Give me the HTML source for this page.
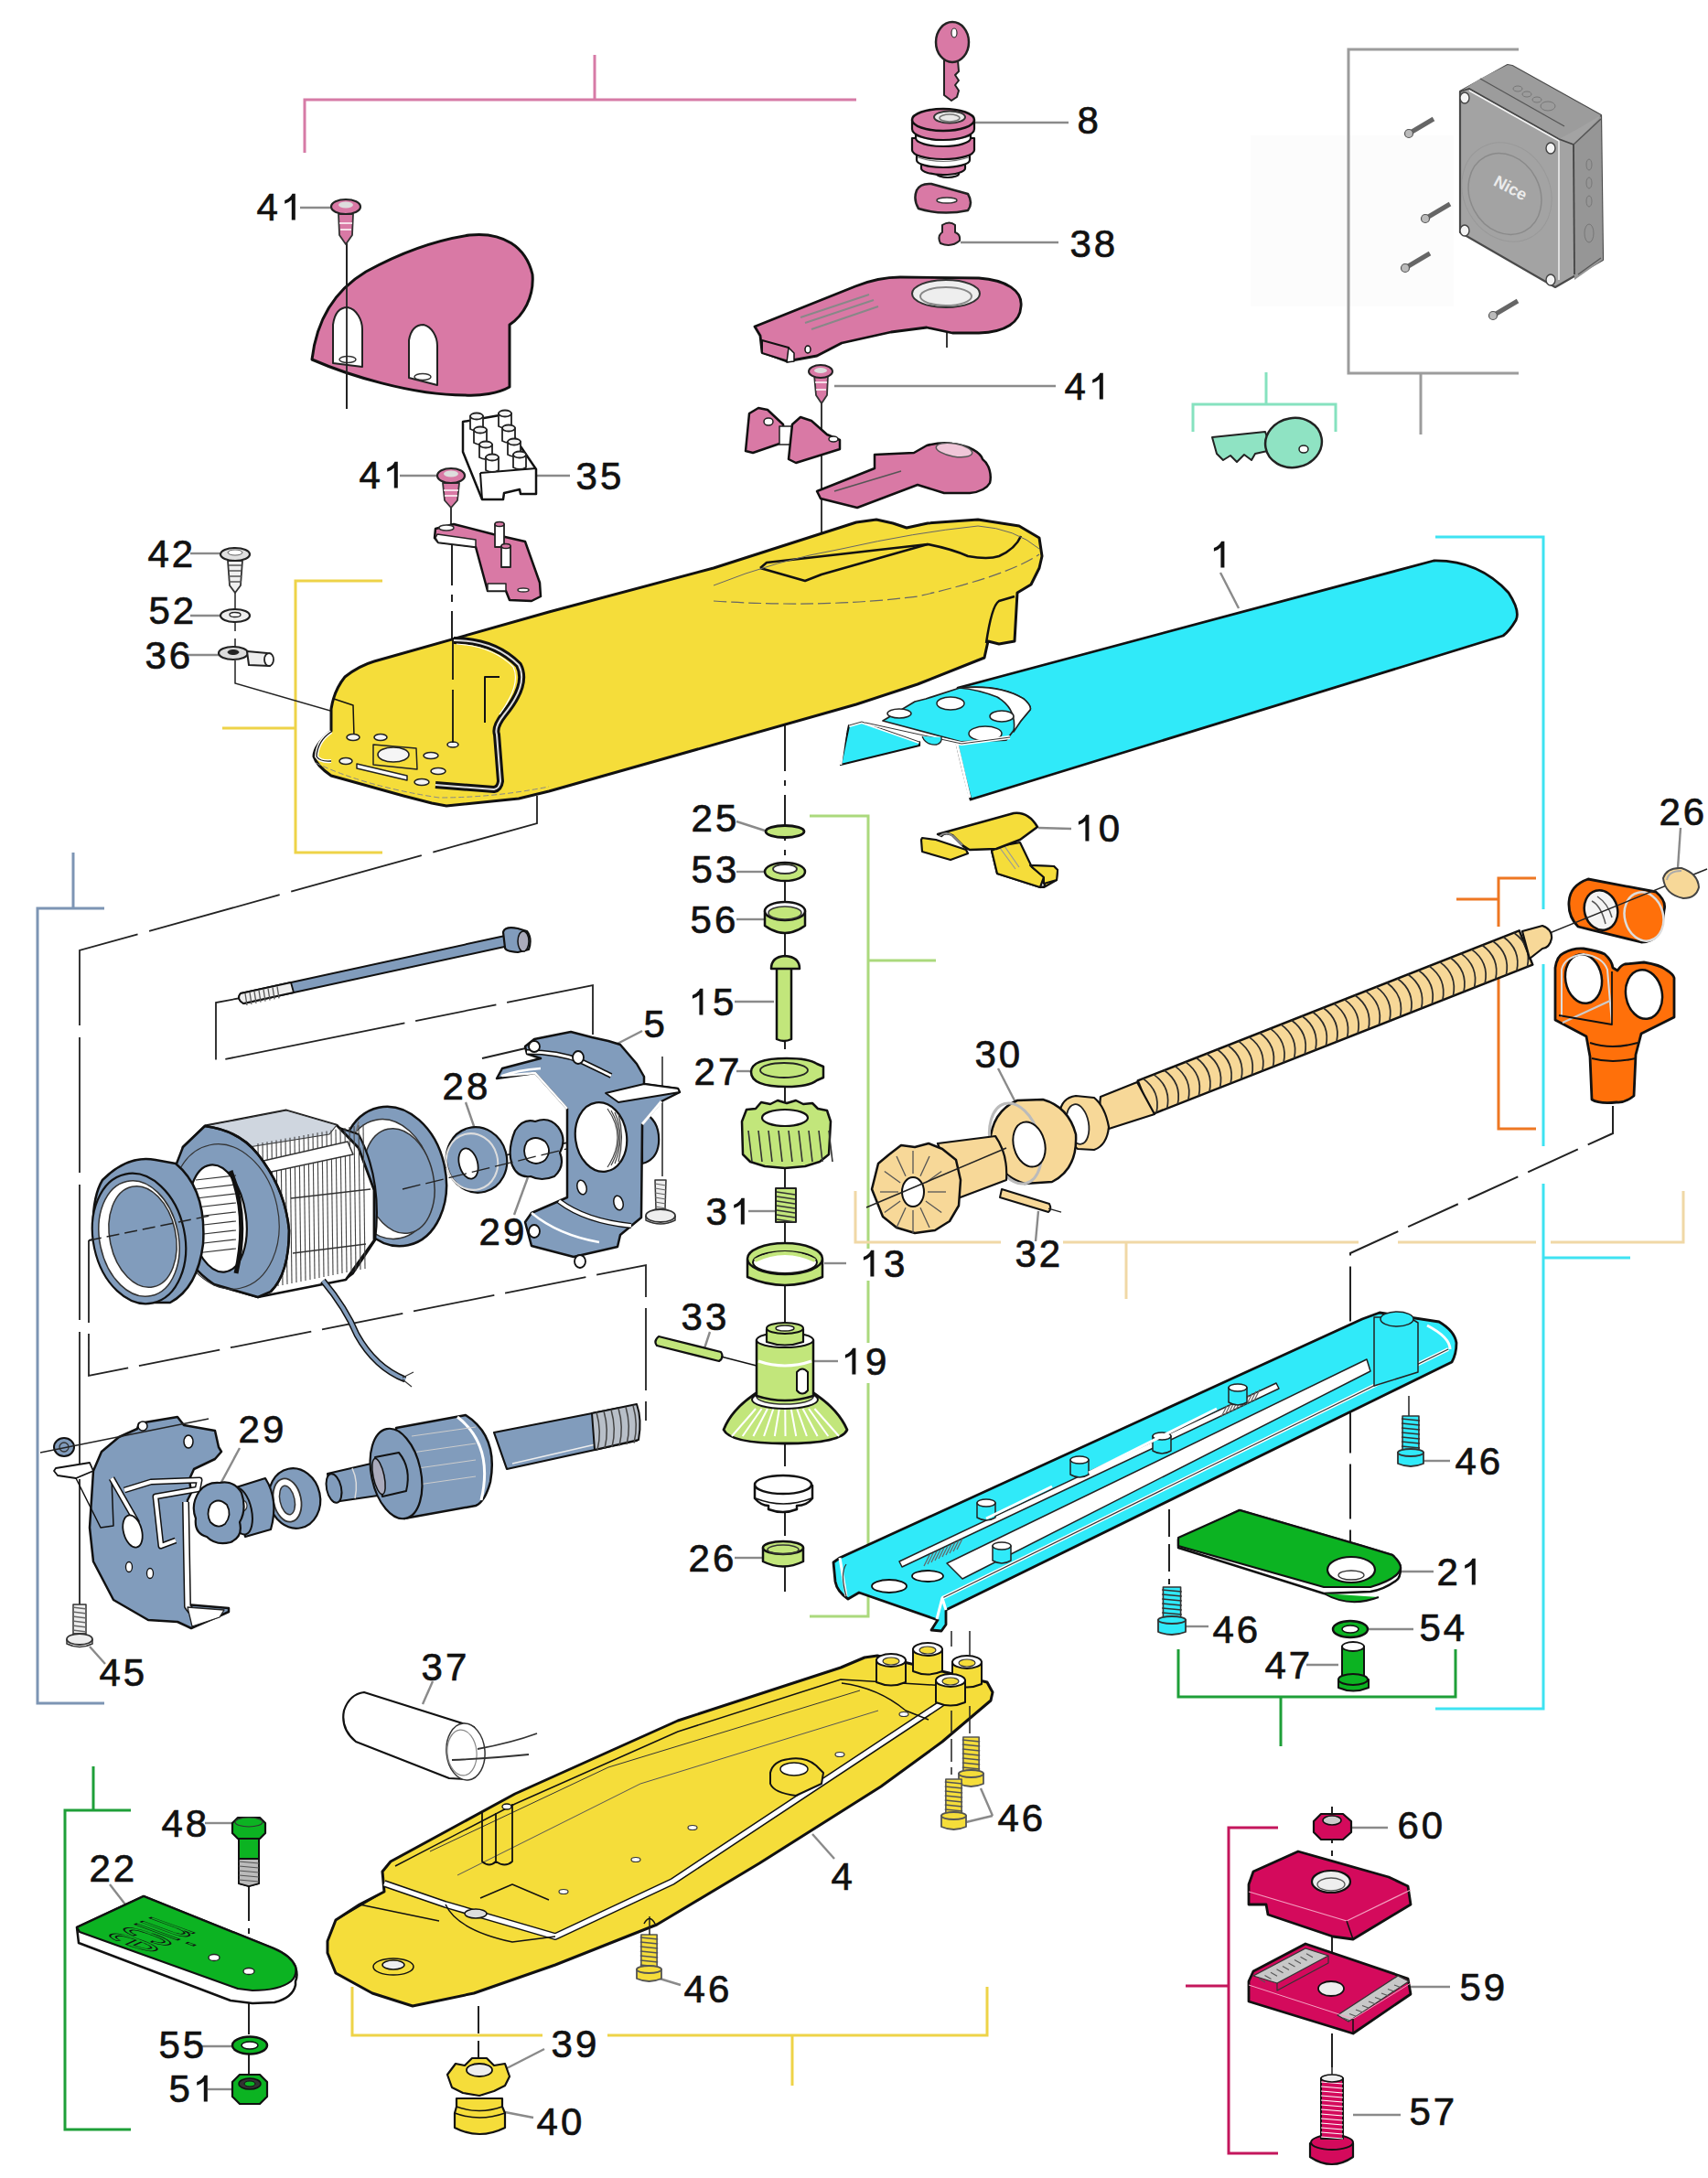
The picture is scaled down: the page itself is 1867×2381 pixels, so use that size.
<!DOCTYPE html>
<html><head><meta charset="utf-8"><style>
html,body{margin:0;padding:0;background:#fff;}
body{width:1867px;height:2381px;overflow:hidden;}
svg{display:block;}
.lb{font-family:"Liberation Sans",sans-serif;font-size:42px;fill:#111;stroke:#111;stroke-width:0.7px;}
</style></head><body>
<svg width="1867" height="2381" viewBox="0 0 1867 2381">
<rect x="1367" y="148" width="222" height="187" fill="#fcfcfc"/>
<polyline points="333,167 333,109 936,109" fill="none" stroke="#d67ba6" stroke-width="3" />
<polyline points="650,60 650,109" fill="none" stroke="#d67ba6" stroke-width="3" />
<polyline points="1660,54 1474,54 1474,408 1660,408" fill="none" stroke="#9c9c9c" stroke-width="3" />
<polyline points="1553,408 1553,475" fill="none" stroke="#9c9c9c" stroke-width="3" />
<polyline points="1304,472 1304,442 1460,442 1460,472" fill="none" stroke="#86e2bf" stroke-width="3" />
<polyline points="1384,407 1384,442" fill="none" stroke="#86e2bf" stroke-width="3" />
<polyline points="418,635 323,635 323,932 418,932" fill="none" stroke="#eed348" stroke-width="3" />
<polyline points="243,796 323,796" fill="none" stroke="#eed348" stroke-width="3" />
<polyline points="1569,587 1687,587 1687,994" fill="none" stroke="#3ee3f2" stroke-width="3" />
<polyline points="1687,1054 1687,1253" fill="none" stroke="#3ee3f2" stroke-width="3" />
<polyline points="1687,1294 1687,1868 1569,1868" fill="none" stroke="#3ee3f2" stroke-width="3" />
<polyline points="1687,1375 1782,1375" fill="none" stroke="#3ee3f2" stroke-width="3" />
<polyline points="1679,960 1638,960 1638,1013" fill="none" stroke="#ee7722" stroke-width="3" />
<polyline points="1638,1069 1638,1234 1679,1234" fill="none" stroke="#ee7722" stroke-width="3" />
<polyline points="1592,983 1638,983" fill="none" stroke="#ee7722" stroke-width="3" />
<polyline points="885,892 949,892 949,1365" fill="none" stroke="#abd97d" stroke-width="3" />
<polyline points="949,1400 949,1468" fill="none" stroke="#abd97d" stroke-width="3" />
<polyline points="949,1512 949,1767 885,1767" fill="none" stroke="#abd97d" stroke-width="3" />
<polyline points="949,1050 1023,1050" fill="none" stroke="#abd97d" stroke-width="3" />
<polyline points="935,1302 935,1358 1094,1358" fill="none" stroke="#f0d8a6" stroke-width="3" />
<polyline points="1162,1358 1485,1358" fill="none" stroke="#f0d8a6" stroke-width="3" />
<polyline points="1528,1358 1679,1358" fill="none" stroke="#f0d8a6" stroke-width="3" />
<polyline points="1695,1358 1840,1358 1840,1302" fill="none" stroke="#f0d8a6" stroke-width="3" />
<polyline points="1231,1358 1231,1420" fill="none" stroke="#f0d8a6" stroke-width="3" />
<polyline points="114,993 41,993 41,1862 114,1862" fill="none" stroke="#7d95b4" stroke-width="3" />
<polyline points="80,932 80,993" fill="none" stroke="#7d95b4" stroke-width="3" />
<polyline points="143,1979 71,1979 71,2328 143,2328" fill="none" stroke="#1e9f38" stroke-width="3" />
<polyline points="102,1931 102,1979" fill="none" stroke="#1e9f38" stroke-width="3" />
<polyline points="1288,1803 1288,1855 1591,1855 1591,1803" fill="none" stroke="#1e9f38" stroke-width="3" />
<polyline points="1400,1855 1400,1909" fill="none" stroke="#1e9f38" stroke-width="3" />
<polyline points="385,2172 385,2225 593,2225" fill="none" stroke="#eed348" stroke-width="3" />
<polyline points="664,2225 1079,2225 1079,2172" fill="none" stroke="#eed348" stroke-width="3" />
<polyline points="866,2225 866,2280" fill="none" stroke="#eed348" stroke-width="3" />
<polyline points="1397,1998 1343,1998 1343,2354 1397,2354" fill="none" stroke="#c4165c" stroke-width="3" />
<polyline points="1296,2171 1343,2171" fill="none" stroke="#c4165c" stroke-width="3" />
<polyline points="328,227 361,227" fill="none" stroke="#8a8a8a" stroke-width="2.4" />
<polyline points="585,520 623,520" fill="none" stroke="#8a8a8a" stroke-width="2.4" />
<polyline points="437,520 477,520" fill="none" stroke="#8a8a8a" stroke-width="2.4" />
<polyline points="1064,134 1168,134" fill="none" stroke="#8a8a8a" stroke-width="2.4" />
<polyline points="1050,265 1157,265" fill="none" stroke="#8a8a8a" stroke-width="2.4" />
<polyline points="912,422 1154,422" fill="none" stroke="#8a8a8a" stroke-width="2.4" />
<polyline points="208,605 240,605" fill="none" stroke="#8a8a8a" stroke-width="2.4" />
<polyline points="208,673 241,673" fill="none" stroke="#8a8a8a" stroke-width="2.4" />
<polyline points="203,716 240,716" fill="none" stroke="#8a8a8a" stroke-width="2.4" />
<polyline points="1334,626 1354,665" fill="none" stroke="#8a8a8a" stroke-width="2.4" />
<polyline points="805,898 836,908" fill="none" stroke="#8a8a8a" stroke-width="2.4" />
<polyline points="805,953 836,953" fill="none" stroke="#8a8a8a" stroke-width="2.4" />
<polyline points="805,1005 836,1005" fill="none" stroke="#8a8a8a" stroke-width="2.4" />
<polyline points="1135,905 1171,906" fill="none" stroke="#8a8a8a" stroke-width="2.4" />
<polyline points="1837,905 1834,949" fill="none" stroke="#8a8a8a" stroke-width="2.4" />
<polyline points="803,1095 846,1095" fill="none" stroke="#8a8a8a" stroke-width="2.4" />
<polyline points="702,1127 669,1144" fill="none" stroke="#8a8a8a" stroke-width="2.4" />
<polyline points="509,1205 519,1234" fill="none" stroke="#8a8a8a" stroke-width="2.4" />
<polyline points="805,1171 821,1171" fill="none" stroke="#8a8a8a" stroke-width="2.4" />
<polyline points="1091,1168 1111,1207" fill="none" stroke="#8a8a8a" stroke-width="2.4" />
<polyline points="562,1328 577,1287" fill="none" stroke="#8a8a8a" stroke-width="2.4" />
<polyline points="818,1324 847,1324" fill="none" stroke="#8a8a8a" stroke-width="2.4" />
<polyline points="1132,1357 1135,1324" fill="none" stroke="#8a8a8a" stroke-width="2.4" />
<polyline points="925,1381 901,1381" fill="none" stroke="#8a8a8a" stroke-width="2.4" />
<polyline points="916,1488 888,1488" fill="none" stroke="#8a8a8a" stroke-width="2.4" />
<polyline points="262,1583 240,1624" fill="none" stroke="#8a8a8a" stroke-width="2.4" />
<polyline points="1556,1597 1585,1597" fill="none" stroke="#8a8a8a" stroke-width="2.4" />
<polyline points="803,1703 833,1703" fill="none" stroke="#8a8a8a" stroke-width="2.4" />
<polyline points="1531,1718 1567,1718" fill="none" stroke="#8a8a8a" stroke-width="2.4" />
<polyline points="1296,1778 1321,1778" fill="none" stroke="#8a8a8a" stroke-width="2.4" />
<polyline points="1496,1781 1545,1781" fill="none" stroke="#8a8a8a" stroke-width="2.4" />
<polyline points="1428,1820 1463,1820" fill="none" stroke="#8a8a8a" stroke-width="2.4" />
<polyline points="98,1800 115,1819" fill="none" stroke="#8a8a8a" stroke-width="2.4" />
<polyline points="473,1838 462,1863" fill="none" stroke="#8a8a8a" stroke-width="2.4" />
<polyline points="224,1993 254,1993" fill="none" stroke="#8a8a8a" stroke-width="2.4" />
<polyline points="1477,1998 1517,1998" fill="none" stroke="#8a8a8a" stroke-width="2.4" />
<polyline points="1085,1985 1056,1992" fill="none" stroke="#8a8a8a" stroke-width="2.4" />
<polyline points="1085,1985 1072,1955" fill="none" stroke="#8a8a8a" stroke-width="2.4" />
<polyline points="137,2082 120,2060" fill="none" stroke="#8a8a8a" stroke-width="2.4" />
<polyline points="888,2005 912,2032" fill="none" stroke="#8a8a8a" stroke-width="2.4" />
<polyline points="1542,2172 1585,2172" fill="none" stroke="#8a8a8a" stroke-width="2.4" />
<polyline points="721,2163 744,2170" fill="none" stroke="#8a8a8a" stroke-width="2.4" />
<polyline points="554,2261 595,2240" fill="none" stroke="#8a8a8a" stroke-width="2.4" />
<polyline points="218,2237 255,2237" fill="none" stroke="#8a8a8a" stroke-width="2.4" />
<polyline points="227,2284 255,2284" fill="none" stroke="#8a8a8a" stroke-width="2.4" />
<polyline points="552,2309 583,2315" fill="none" stroke="#8a8a8a" stroke-width="2.4" />
<polyline points="1479,2312 1531,2312" fill="none" stroke="#8a8a8a" stroke-width="2.4" />
<polyline points="776,1456 770,1474" fill="none" stroke="#8a8a8a" stroke-width="2.4" />
<polyline points="587,870 587,900 87,1039 87,1754" fill="none" stroke="#222" stroke-width="1.8" stroke-dasharray="148 13" />
<polyline points="494,580 494,812" fill="none" stroke="#222" stroke-width="2" stroke-dasharray="60 10 8 10" />
<polyline points="379,265 379,447" fill="none" stroke="#222" stroke-width="1.8" />
<polyline points="493,540 493,580" fill="none" stroke="#222" stroke-width="1.8" />
<polyline points="257,648 257,690" fill="none" stroke="#222" stroke-width="1.5" />
<polyline points="257,698 257,709" fill="none" stroke="#222" stroke-width="1.5" />
<polyline points="257,722 257,747 389,785 389,804" fill="none" stroke="#222" stroke-width="1.5" />
<polyline points="898,437 898,560" fill="none" stroke="#222" stroke-width="1.8" />
<polyline points="898,560 898,627" fill="none" stroke="#222" stroke-width="1.8" stroke-dasharray="30 8" />
<polyline points="1035,363 1035,380" fill="none" stroke="#222" stroke-width="1.8" />
<polyline points="858,793 858,1740" fill="none" stroke="#222" stroke-width="2" stroke-dasharray="50 10 6 10" />
<polyline points="1763,1209 1763,1239 1476,1370 1476,1740" fill="none" stroke="#222" stroke-width="2" stroke-dasharray="60 12" />
<polyline points="523,2193 523,2255" fill="none" stroke="#222" stroke-width="2" stroke-dasharray="30 8" />
<polyline points="272,2060 272,2300" fill="none" stroke="#222" stroke-width="2" stroke-dasharray="40 8 6 8" />
<polyline points="1456,1975 1456,2260" fill="none" stroke="#222" stroke-width="2" stroke-dasharray="40 8 6 8" />
<polyline points="1278,1650 1278,1732" fill="none" stroke="#222" stroke-width="2" stroke-dasharray="30 8" />
<polyline points="1540,1526 1540,1548" fill="none" stroke="#222" stroke-width="1.5" />
<polyline points="263,1091 236,1096 236,1160 648,1077 648,1131" fill="none" stroke="#222" stroke-width="1.8" stroke-dasharray="90 12 200 12" />
<polyline points="527,1157 583,1144" fill="none" stroke="#222" stroke-width="2" />
<polyline points="97,1356 660,1241" fill="none" stroke="#222" stroke-width="1.8" stroke-dasharray="60 10 8 10" />
<polyline points="97,1356 97,1504 706,1383 706,1553" fill="none" stroke="#222" stroke-width="1.8" stroke-dasharray="90 12" />
<polyline points="724,1155 724,1286" fill="none" stroke="#222" stroke-width="1.5" />
<polygon points="1596,100 1648,71 1653,72 1750,126 1752,284 1700,314 1596,254" fill="#a3a3a3" stroke="#4a4a4a" stroke-width="2.2" stroke-linejoin="round" />
<polygon points="1596,100 1618,86 1648,71 1653,72 1750,126 1721,143 1704,152 1606,97" fill="#9c9c9c" stroke="none" stroke-width="0" stroke-linejoin="round" />
<polygon points="1720,158 1750,127 1752,284 1721,306" fill="#969696" stroke="none" stroke-width="0" stroke-linejoin="round" />
<polyline points="1596,100 1606,97 1704,152 1720,158" fill="none" stroke="#444" stroke-width="1.8" />
<polyline points="1606,99 1704,154" fill="none" stroke="#f2f2f2" stroke-width="1.5" />
<polyline points="1704,154 1704,306" fill="none" stroke="#f2f2f2" stroke-width="1.5" />
<polyline points="1720,158 1721,300" fill="none" stroke="#444" stroke-width="1.8" />
<polyline points="1618,86 1710,138" fill="none" stroke="#555" stroke-width="1.2" />
<polyline points="1720,158 1750,130" fill="none" stroke="#555" stroke-width="1.5" />
<polyline points="1725,300 1750,282" fill="none" stroke="#555" stroke-width="1.2" />
<ellipse cx="1659" cy="97" rx="5" ry="3" fill="none" stroke="#777" stroke-width="1" />
<ellipse cx="1669" cy="103" rx="5" ry="3" fill="none" stroke="#777" stroke-width="1" />
<ellipse cx="1680" cy="109" rx="5" ry="3" fill="none" stroke="#777" stroke-width="1" />
<ellipse cx="1692" cy="116" rx="8" ry="5" fill="none" stroke="#777" stroke-width="1" />
<ellipse cx="1737" cy="180" rx="3" ry="6" fill="none" stroke="#777" stroke-width="1" />
<ellipse cx="1737" cy="200" rx="3" ry="6" fill="none" stroke="#777" stroke-width="1" />
<ellipse cx="1737" cy="220" rx="3" ry="6" fill="none" stroke="#777" stroke-width="1" />
<ellipse cx="1737" cy="255" rx="5" ry="10" fill="none" stroke="#777" stroke-width="1" />
<ellipse cx="1645" cy="212" rx="38" ry="46" fill="none" stroke="#8a8a8a" stroke-width="1.5" transform="rotate(-28 1645 212)" />
<ellipse cx="1647" cy="210" rx="47" ry="56" fill="none" stroke="#999" stroke-width="1" transform="rotate(-28 1647 210)" />
<text x="1632" y="212" transform="rotate(28 1652 206)" font-family="Liberation Sans" font-size="18" fill="#ececec" font-weight="bold">Nice</text>
<ellipse cx="1601" cy="107" rx="5" ry="6" fill="#f4f4f4" stroke="#444" stroke-width="1.4" />
<ellipse cx="1695" cy="162" rx="5" ry="6" fill="#f4f4f4" stroke="#444" stroke-width="1.4" />
<ellipse cx="1601" cy="252" rx="5" ry="6" fill="#f4f4f4" stroke="#444" stroke-width="1.4" />
<ellipse cx="1695" cy="306" rx="5" ry="6" fill="#f4f4f4" stroke="#444" stroke-width="1.4" />
<polyline points="1540,146 1567,130" fill="none" stroke="#666" stroke-width="5" />
<ellipse cx="1540" cy="146" rx="4.5" ry="4.5" fill="#bbb" stroke="#555" stroke-width="1.2" />
<polyline points="1558,239 1585,223" fill="none" stroke="#666" stroke-width="5" />
<ellipse cx="1558" cy="239" rx="4.5" ry="4.5" fill="#bbb" stroke="#555" stroke-width="1.2" />
<polyline points="1536,293 1563,277" fill="none" stroke="#666" stroke-width="5" />
<ellipse cx="1536" cy="293" rx="4.5" ry="4.5" fill="#bbb" stroke="#555" stroke-width="1.2" />
<polyline points="1632,345 1659,329" fill="none" stroke="#666" stroke-width="5" />
<ellipse cx="1632" cy="345" rx="4.5" ry="4.5" fill="#bbb" stroke="#555" stroke-width="1.2" />
<path d="M1325,478 L1383,472 L1390,492 L1372,496 L1368,503 L1360,497 L1352,505 L1345,498 L1337,503 L1330,496 Z" fill="#8fe3c3" stroke="#222" stroke-width="2" stroke-linejoin="round" />
<ellipse cx="1414" cy="484" rx="31" ry="27" fill="#8fe3c3" stroke="#222" stroke-width="2.5" transform="rotate(-10 1414 484)" />
<ellipse cx="1425" cy="491" rx="5" ry="4" fill="#fff" stroke="#222" stroke-width="1.5" />
<path d="M1032,66 L1047,66 L1048,78 L1044,82 L1048,88 L1044,93 L1048,99 L1046,106 L1040,110 L1032,104 Z" fill="#d979a5" stroke="#222" stroke-width="2" stroke-linejoin="round" />
<ellipse cx="1041" cy="46" rx="18" ry="22" fill="#d979a5" stroke="#222" stroke-width="2.5" />
<ellipse cx="1043" cy="36" rx="3" ry="5" fill="#fff" stroke="#333" stroke-width="1.2" />
<path d="M1024,184 L1024,190 A12,4 0 0 0 1048,190 L1048,184 Z" fill="#fff" stroke="#111" stroke-width="2.2" stroke-linejoin="round" />
<path d="M1007,174 L1007,184 A24,7 0 0 0 1055,184 L1055,174 Z" fill="#d979a5" stroke="#111" stroke-width="2.2" stroke-linejoin="round" />
<path d="M1002,165 L1002,175 A29,8 0 0 0 1060,175 L1060,165 Z" fill="#fff" stroke="#111" stroke-width="2.2" stroke-linejoin="round" />
<path d="M1003,168 Q1031,177 1059,168" fill="none" stroke="#777" stroke-width="1.2" stroke-linejoin="round" />
<path d="M1003,172 Q1031,181 1059,172" fill="none" stroke="#777" stroke-width="1.2" stroke-linejoin="round" />
<path d="M997,151 L997,164 A34,10 0 0 0 1065,164 L1065,151 Z" fill="#d979a5" stroke="#111" stroke-width="2.2" stroke-linejoin="round" />
<path d="M1001,143 L1001,151 A30,9 0 0 0 1061,151 L1061,143 Z" fill="#fff" stroke="#111" stroke-width="2.2" stroke-linejoin="round" />
<path d="M1002,146 Q1031,155 1060,146" fill="none" stroke="#777" stroke-width="1.2" stroke-linejoin="round" />
<path d="M1002,149 Q1031,158 1060,149" fill="none" stroke="#777" stroke-width="1.2" stroke-linejoin="round" />
<path d="M997,131 L997,141 A34,12 0 0 0 1065,141 L1065,131 Z" fill="#d979a5" stroke="#111" stroke-width="2.2" stroke-linejoin="round" />
<ellipse cx="1031" cy="131" rx="34" ry="12" fill="#d979a5" stroke="#111" stroke-width="2.5" />
<ellipse cx="1038" cy="128" rx="17" ry="6.5" fill="#e9e9e9" stroke="#333" stroke-width="2" />
<ellipse cx="1038" cy="129" rx="11" ry="4" fill="none" stroke="#777" stroke-width="1.5" />
<path d="M1002,208 Q1006,200 1018,201 L1058,212 Q1064,222 1058,230 Q1030,236 1004,228 Q998,218 1002,208 Z" fill="#d979a5" stroke="#222" stroke-width="2.5" stroke-linejoin="round" />
<ellipse cx="1035" cy="219" rx="11" ry="3" fill="#fff" stroke="#333" stroke-width="1.5" />
<path d="M1030,246 Q1038,241 1044,246 L1044,254 Q1050,256 1049,263 Q1040,271 1028,266 Q1024,258 1030,254 Z" fill="#d979a5" stroke="#222" stroke-width="2" stroke-linejoin="round" />
<path d="M825,357 L935,313 C950,307 968,303 984,303 L1070,304 C1100,306 1118,318 1116,335 C1115,352 1100,363 1070,364 L1041,364 L1013,358 L974,363 L920,375 L893,389 L860,395 L833,385 L831,367 Z" fill="#d979a5" stroke="#111" stroke-width="2.8" stroke-linejoin="round" />
<ellipse cx="1034" cy="321" rx="37" ry="15" fill="#eee" stroke="#333" stroke-width="2" />
<ellipse cx="1034" cy="324" rx="28" ry="10" fill="none" stroke="#888" stroke-width="2" />
<polyline points="875,347 950,322" fill="none" stroke="#888" stroke-width="2" />
<polyline points="880,353 955,328" fill="none" stroke="#888" stroke-width="2" />
<polyline points="887,360 960,335" fill="none" stroke="#888" stroke-width="2" />
<path d="M833,372 L862,380 L862,395 L833,386 Z" fill="#d979a5" stroke="#111" stroke-width="2" stroke-linejoin="round" />
<path d="M862,380 L868,386 L868,395 L860,396 Z" fill="#fff" stroke="#111" stroke-width="1.5" stroke-linejoin="round" />
<ellipse cx="883" cy="382" rx="3" ry="4" fill="#fff" stroke="#111" stroke-width="1.5" />
<path d="M890,410 L905,410 L904,432 L898,441 L892,432 Z" fill="#d979a5" stroke="#333" stroke-width="1.8" stroke-linejoin="round" />
<polyline points="891,418 904,418" fill="none" stroke="#fff" stroke-width="1.5" />
<polyline points="892,426 903,426" fill="none" stroke="#fff" stroke-width="1.5" />
<ellipse cx="897" cy="406" rx="13" ry="7" fill="#d979a5" stroke="#222" stroke-width="2" />
<ellipse cx="897" cy="405" rx="7" ry="3" fill="#ddd" stroke="none" stroke-width="0" />
<path d="M815,493 L819,452 L829,446 L839,448 L856,464 L858,483 L823,495 Z" fill="#d979a5" stroke="#111" stroke-width="2.5" stroke-linejoin="round" />
<ellipse cx="840" cy="461" rx="5" ry="4" fill="#fff" stroke="#222" stroke-width="1.5" />
<path d="M852,466 L866,466 L866,486 L852,486 Z" fill="#fff" stroke="#222" stroke-width="1.5" stroke-linejoin="round" />
<path d="M862,502 L866,464 L875,456 L887,460 L904,475 L918,481 L918,491 L870,506 Z" fill="#d979a5" stroke="#111" stroke-width="2.5" stroke-linejoin="round" />
<ellipse cx="911" cy="480" rx="5" ry="3" fill="#fff" stroke="#222" stroke-width="1.5" />
<path d="M893,537 L956,512 L956,497 L999,495 L1013,487 C1025,484 1035,484 1041,485 C1060,487 1072,495 1074,502 C1082,508 1084,520 1082,528 C1078,535 1070,538 1060,539 L1032,539 L1003,530 L937,555 L897,545 Z" fill="#d979a5" stroke="#111" stroke-width="2.5" stroke-linejoin="round" />
<ellipse cx="1043" cy="492" rx="20" ry="7" fill="#f0c6d8" stroke="#555" stroke-width="1.5" transform="rotate(10 1043 492)" />
<polyline points="912,537 985,515" fill="none" stroke="#555" stroke-width="1.5" />
<path d="M341,393 C346,350 365,318 400,297 C440,275 480,262 513,257 C550,253 575,270 582,300 C584,325 572,345 557,355 L557,423 C545,430 525,433 508,432 C450,432 380,410 341,393 Z" fill="#d979a5" stroke="#111" stroke-width="3" stroke-linejoin="round" />
<path d="M364,397 L364,355 C366,340 373,336 380,336 C390,338 396,350 396,360 L396,401 Z" fill="#fff" stroke="#222" stroke-width="2" stroke-linejoin="round" />
<path d="M447,413 L447,372 C449,360 455,355 463,355 C472,357 478,368 478,378 L478,421 Z" fill="#fff" stroke="#222" stroke-width="2" stroke-linejoin="round" />
<ellipse cx="380" cy="393" rx="9" ry="3.5" fill="none" stroke="#333" stroke-width="1.5" />
<ellipse cx="462" cy="412" rx="9" ry="3.5" fill="none" stroke="#333" stroke-width="1.5" />
<polyline points="379,265 379,447" fill="none" stroke="#222" stroke-width="1.8" />
<path d="M370,234 L386,234 L385,257 L378,267 L371,257 Z" fill="#d979a5" stroke="#333" stroke-width="1.8" stroke-linejoin="round" />
<polyline points="371,244 385,244" fill="none" stroke="#fff" stroke-width="1.5" />
<polyline points="372,251 384,251" fill="none" stroke="#fff" stroke-width="1.5" />
<ellipse cx="378" cy="226" rx="16" ry="8" fill="#d979a5" stroke="#222" stroke-width="2.2" />
<ellipse cx="378" cy="224" rx="8" ry="3.5" fill="#ddd" stroke="none" stroke-width="0" />
<path d="M506,461 L546,454 L586,513 L586,540 L569,540 L568,535 L551,539 L550,546 L527,546 L506,494 Z" fill="#fff" stroke="#111" stroke-width="2.5" stroke-linejoin="round" />
<polyline points="525,517 586,512" fill="none" stroke="#111" stroke-width="2" />
<polyline points="525,517 527,546" fill="none" stroke="#111" stroke-width="2" />
<path d="M514,455 L514,469 Q521,473 528,469 L528,455 Z" fill="#fff" stroke="#222" stroke-width="1.8" stroke-linejoin="round" />
<ellipse cx="521" cy="455" rx="7" ry="3.5" fill="#f4f4f4" stroke="#222" stroke-width="1.8" />
<path d="M545,452 L545,466 Q552,470 559,466 L559,452 Z" fill="#fff" stroke="#222" stroke-width="1.8" stroke-linejoin="round" />
<ellipse cx="552" cy="452" rx="7" ry="3.5" fill="#f4f4f4" stroke="#222" stroke-width="1.8" />
<path d="M518,470 L518,484 Q525,488 532,484 L532,470 Z" fill="#fff" stroke="#222" stroke-width="1.8" stroke-linejoin="round" />
<ellipse cx="525" cy="470" rx="7" ry="3.5" fill="#f4f4f4" stroke="#222" stroke-width="1.8" />
<path d="M549,468 L549,482 Q556,486 563,482 L563,468 Z" fill="#fff" stroke="#222" stroke-width="1.8" stroke-linejoin="round" />
<ellipse cx="556" cy="468" rx="7" ry="3.5" fill="#f4f4f4" stroke="#222" stroke-width="1.8" />
<path d="M524,486 L524,500 Q531,504 538,500 L538,486 Z" fill="#fff" stroke="#222" stroke-width="1.8" stroke-linejoin="round" />
<ellipse cx="531" cy="486" rx="7" ry="3.5" fill="#f4f4f4" stroke="#222" stroke-width="1.8" />
<path d="M555,483 L555,497 Q562,501 569,497 L569,483 Z" fill="#fff" stroke="#222" stroke-width="1.8" stroke-linejoin="round" />
<ellipse cx="562" cy="483" rx="7" ry="3.5" fill="#f4f4f4" stroke="#222" stroke-width="1.8" />
<path d="M531,500 L531,514 Q538,518 545,514 L545,500 Z" fill="#fff" stroke="#222" stroke-width="1.8" stroke-linejoin="round" />
<ellipse cx="538" cy="500" rx="7" ry="3.5" fill="#f4f4f4" stroke="#222" stroke-width="1.8" />
<path d="M561,497 L561,511 Q568,515 575,511 L575,497 Z" fill="#fff" stroke="#222" stroke-width="1.8" stroke-linejoin="round" />
<ellipse cx="568" cy="497" rx="7" ry="3.5" fill="#f4f4f4" stroke="#222" stroke-width="1.8" />
<path d="M484,528 L502,528 L500,547 L493,555 L486,547 Z" fill="#d979a5" stroke="#333" stroke-width="1.8" stroke-linejoin="round" />
<polyline points="485,536 501,536" fill="none" stroke="#fff" stroke-width="1.5" />
<polyline points="486,542 500,542" fill="none" stroke="#fff" stroke-width="1.5" />
<ellipse cx="493" cy="520" rx="15" ry="8" fill="#d979a5" stroke="#222" stroke-width="2.2" />
<ellipse cx="493" cy="518" rx="8" ry="3.5" fill="#ddd" stroke="none" stroke-width="0" />
<path d="M476,578 L496,573 L539,584 L574,592 L590,637 L591,652 L581,657 L557,656 L553,646 L533,646 L520,598 L479,593 L475,588 Z" fill="#d979a5" stroke="#111" stroke-width="2.5" stroke-linejoin="round" />
<path d="M476,588 L479,593 L520,598 L520,590 L478,584 Z" fill="#fff" stroke="#222" stroke-width="1.5" stroke-linejoin="round" />
<path d="M533,646 L553,646 L553,638 L533,638 Z" fill="#fff" stroke="#222" stroke-width="1.5" stroke-linejoin="round" />
<ellipse cx="488" cy="577" rx="8" ry="3" fill="#fff" stroke="#333" stroke-width="1.5" />
<ellipse cx="572" cy="645" rx="6" ry="2" fill="#fff" stroke="#333" stroke-width="1.5" />
<path d="M541,573 L551,573 L551,598 L541,598 Z" fill="#fff" stroke="#222" stroke-width="1.8" stroke-linejoin="round" />
<ellipse cx="546" cy="573" rx="5" ry="2.5" fill="#d979a5" stroke="#222" stroke-width="1.5" />
<path d="M548,597 L558,597 L558,620 L548,620 Z" fill="#fff" stroke="#222" stroke-width="1.8" stroke-linejoin="round" />
<ellipse cx="553" cy="597" rx="5" ry="2.5" fill="#d979a5" stroke="#222" stroke-width="1.5" />
<path d="M600,669 L780,621 L936,571 L958,568 L976,572 L991,577 L1014,572 L1069,568 L1114,575 L1136,588 L1139,608 L1136,621 L1127,639 L1112,648 L1109,701 L1092,704 L1080,701 L1076,719 L1003,748 L936,770 L600,865 L567,873 L488,881 L472,878 L441,870 L362,848 Q346,837 343,827 Q343,815 362,799 L362,775 Q365,755 377,740 Q392,728 409,723 Z" fill="#f5dd3a" stroke="#111" stroke-width="3" stroke-linejoin="round" />
<path d="M831,621 L838,615 L1014,595 Q1040,600 1058,608 Q1080,612 1092,608 Q1110,600 1116,586" fill="none" stroke="#111" stroke-width="2.5" stroke-linejoin="round" />
<path d="M831,621 L880,635 L898,628 L1014,595" fill="none" stroke="#111" stroke-width="2.5" stroke-linejoin="round" />
<path d="M780,657 Q900,665 1003,652 Q1100,630 1136,606" fill="none" stroke="#666" stroke-width="1.2" stroke-linejoin="round" stroke-dasharray="14 5"/>
<path d="M1078,703 Q1084,662 1092,657 L1109,652" fill="none" stroke="#111" stroke-width="2.5" stroke-linejoin="round" />
<path d="M780,640 Q850,612 920,600 Q1000,582 1069,575 Q1110,578 1136,600" fill="none" stroke="#666" stroke-width="1" stroke-linejoin="round" />
<path d="M496,700 Q540,700 567,727 Q578,748 551,781 Q540,795 543,803 L547,854 Q546,862 540,863 L476,858" fill="none" stroke="#111" stroke-width="8" stroke-linejoin="round" />
<path d="M496,700 Q540,700 567,727 Q578,748 551,781 Q540,795 543,803 L547,854 Q546,862 540,863 L476,858" fill="none" stroke="#ddd" stroke-width="2" stroke-linejoin="round" />
<path d="M499,704 Q538,706 561,729 Q570,748 546,781" fill="none" stroke="#fff" stroke-width="1.2" stroke-linejoin="round" />
<path d="M362,800 Q347,810 346,827 Q350,833 362,832" fill="none" stroke="#fff" stroke-width="4" stroke-linejoin="round" />
<path d="M362,800 Q347,810 346,827 Q350,833 362,832" fill="none" stroke="#111" stroke-width="1.3" stroke-linejoin="round" />
<path d="M345,834 Q400,860 480,872 Q540,872 600,860" fill="none" stroke="#888" stroke-width="1" stroke-linejoin="round" stroke-dasharray="6 3"/>
<path d="M365,764 L386,771 L387,805" fill="none" stroke="#111" stroke-width="1.5" stroke-linejoin="round" />
<path d="M546,740 L530,740 L530,790" fill="none" stroke="#111" stroke-width="2" stroke-linejoin="round" />
<ellipse cx="386" cy="806" rx="7" ry="3.5" fill="#f5f5f5" stroke="#222" stroke-width="1.6" />
<ellipse cx="416" cy="806" rx="7" ry="3.5" fill="#f5f5f5" stroke="#222" stroke-width="1.6" />
<ellipse cx="430" cy="825" rx="17" ry="8" fill="#f5f5f5" stroke="#222" stroke-width="1.6" />
<ellipse cx="471" cy="826" rx="8" ry="3.5" fill="#f5f5f5" stroke="#222" stroke-width="1.6" />
<ellipse cx="479" cy="843" rx="8" ry="3.5" fill="#f5f5f5" stroke="#222" stroke-width="1.6" />
<ellipse cx="461" cy="855" rx="8" ry="3.5" fill="#f5f5f5" stroke="#222" stroke-width="1.6" />
<ellipse cx="495" cy="814" rx="6" ry="3" fill="#f5f5f5" stroke="#222" stroke-width="1.6" />
<ellipse cx="378" cy="832" rx="7" ry="3.5" fill="#f5f5f5" stroke="#222" stroke-width="1.6" />
<path d="M390,835 L445,848 L445,853 L390,840 Z" fill="#fff" stroke="#222" stroke-width="1.5" stroke-linejoin="round" />
<path d="M408,814 L455,818 L456,841 L408,836 Z" fill="none" stroke="#222" stroke-width="1.5" stroke-linejoin="round" />
<polyline points="495,697 495,743" fill="none" stroke="#111" stroke-width="1.8" />
<polyline points="495,754 495,812" fill="none" stroke="#111" stroke-width="1.8" />
<path d="M1047,752 L1567,613 Q1616,612 1649,648 Q1662,668 1657,678 Q1650,690 1643,695 L1061,874 Q1052,840 1046,813 Z" fill="#30eaf9" stroke="#111" stroke-width="2.8" stroke-linejoin="round" />
<path d="M919,836 L928,793 L942,789 L1005,811 L1005,815 Z" fill="#30eaf9" stroke="#111" stroke-width="2.2" stroke-linejoin="round" />
<path d="M928,793 L942,789 L1005,811" fill="none" stroke="#fff" stroke-width="4" stroke-linejoin="round" />
<path d="M928,793 L942,789 L1005,811" fill="none" stroke="#333" stroke-width="1" stroke-linejoin="round" />
<path d="M924,800 L919,836" fill="none" stroke="#fff" stroke-width="2.5" stroke-linejoin="round" />
<path d="M965,788 L1000,767 L1012,764 L1049,752 Q1093,748 1119,764 Q1128,772 1126,776 L1116,788 L1100,809 L1051,811 Z" fill="#30eaf9" stroke="#222" stroke-width="1.8" stroke-linejoin="round" />
<path d="M1049,752 Q1093,748 1119,764 Q1128,772 1126,776 L1116,788 L1108,800 Q1112,775 1090,762 Q1070,754 1049,752 Z" fill="#fff" stroke="#222" stroke-width="1.6" stroke-linejoin="round" />
<ellipse cx="983" cy="780" rx="13" ry="5" fill="#fff" stroke="#222" stroke-width="1.5" />
<ellipse cx="1039" cy="769" rx="15" ry="7" fill="#fff" stroke="#222" stroke-width="1.5" />
<ellipse cx="1095" cy="783" rx="13" ry="6" fill="#fff" stroke="#222" stroke-width="1.5" />
<ellipse cx="1077" cy="802" rx="18" ry="8" fill="#fff" stroke="#222" stroke-width="1.5" />
<path d="M946,790 L1051,813 L1104,806" fill="none" stroke="#fff" stroke-width="4" stroke-linejoin="round" />
<path d="M946,790 L1051,813 L1104,806" fill="none" stroke="#333" stroke-width="1" stroke-linejoin="round" />
<path d="M1046,813 L1060,872" fill="none" stroke="#fff" stroke-width="3" stroke-linejoin="round" />
<path d="M1008,805 Q1012,815 1024,814 Q1030,812 1029,806" fill="#30eaf9" stroke="#222" stroke-width="1.3" stroke-linejoin="round" />
<path d="M1084,930 L1090,955 L1137,970 L1142,969 L1141,959 L1130,949 L1126,946 L1152,947 L1156,951 L1155,962 L1141,970 L1137,970 L1090,955 Z" fill="#f5dd3a" stroke="#111" stroke-width="2.2" stroke-linejoin="round" />
<path d="M1084,930 L1090,955 L1137,970 L1141,959 L1128,948 L1115,921 L1093,925 Z" fill="#f5dd3a" stroke="#111" stroke-width="2.2" stroke-linejoin="round" />
<path d="M1126,946 L1152,947 L1156,951 L1155,962 L1141,966 L1141,959 Z" fill="#f5dd3a" stroke="#111" stroke-width="2" stroke-linejoin="round" />
<path d="M1093,927 L1110,950 M1098,925 L1114,948" fill="none" stroke="#999" stroke-width="1.2" stroke-linejoin="round" />
<path d="M1007,918 L1008,916 L1023,918 L1056,929 L1058,933 L1039,940 L1008,931 Z" fill="#f5dd3a" stroke="#111" stroke-width="2.2" stroke-linejoin="round" />
<path d="M1025,912 L1108,889 Q1124,887 1134,904 L1115,918 L1089,928 L1060,929 Q1054,926 1052,924 L1041,913 Q1033,909 1029,914 Z" fill="#f5dd3a" stroke="#111" stroke-width="2.5" stroke-linejoin="round" />
<path d="M1027,914 Q1034,908 1042,914 L1052,924" fill="none" stroke="#888" stroke-width="2" stroke-linejoin="round" />
<path d="M249,613 L265,613 L263,640 L257,648 L251,640 Z" fill="#f0f0f0" stroke="#333" stroke-width="1.8" stroke-linejoin="round" />
<polyline points="250,618 264,618" fill="none" stroke="#555" stroke-width="1.5" />
<polyline points="250,624 264,624" fill="none" stroke="#555" stroke-width="1.5" />
<polyline points="250,630 264,630" fill="none" stroke="#555" stroke-width="1.5" />
<polyline points="250,636 264,636" fill="none" stroke="#555" stroke-width="1.5" />
<ellipse cx="257" cy="606" rx="16" ry="7" fill="#e0e0e0" stroke="#222" stroke-width="2.2" />
<ellipse cx="257" cy="604" rx="8" ry="3" fill="#fff" stroke="#666" stroke-width="1" />
<ellipse cx="257" cy="673" rx="16" ry="7" fill="#eee" stroke="#222" stroke-width="2.2" />
<ellipse cx="257" cy="672" rx="6" ry="2.5" fill="#fff" stroke="#222" stroke-width="1.3" />
<ellipse cx="255" cy="714" rx="16" ry="7" fill="#ddd" stroke="#222" stroke-width="2.2" />
<ellipse cx="255" cy="713" rx="6" ry="2.5" fill="#222" stroke="#222" stroke-width="1" />
<path d="M270,712 L292,714 Q300,720 295,728 L272,727 Z" fill="#eee" stroke="#222" stroke-width="2" stroke-linejoin="round" />
<ellipse cx="294" cy="721" rx="5" ry="7" fill="#fff" stroke="#222" stroke-width="1.8" />
<ellipse cx="858" cy="909" rx="21" ry="6.5" fill="#c2e67b" stroke="#111" stroke-width="2.8" />
<ellipse cx="858" cy="953" rx="22" ry="10" fill="#c2e67b" stroke="#111" stroke-width="2.5" />
<ellipse cx="858" cy="950" rx="13" ry="5" fill="#fff" stroke="#333" stroke-width="1.8" />
<path d="M836,996 L836,1012 Q858,1028 880,1012 L880,996 Z" fill="#c2e67b" stroke="#111" stroke-width="2.5" stroke-linejoin="round" />
<ellipse cx="858" cy="996" rx="22" ry="10" fill="#fff" stroke="#111" stroke-width="2.5" />
<ellipse cx="858" cy="998" rx="18" ry="7" fill="#c2e67b" stroke="#333" stroke-width="1.5" />
<path d="M849,1057 L849,1136 Q857,1140 865,1136 L865,1057 Z" fill="#c2e67b" stroke="#111" stroke-width="2.5" stroke-linejoin="round" />
<path d="M843,1059 Q843,1046 858,1045 Q874,1046 874,1059 Z" fill="#c2e67b" stroke="#111" stroke-width="2.5" stroke-linejoin="round" />
<path d="M821,1172 Q821,1157 860,1157 Q884,1157 893,1163 L900,1166 L900,1178 L893,1181 Q884,1188 860,1188 Q821,1188 821,1172 Z" fill="#c2e67b" stroke="#111" stroke-width="2.5" stroke-linejoin="round" />
<ellipse cx="857" cy="1170" rx="26" ry="8" fill="#c2e67b" stroke="#222" stroke-width="1.8" />
<path d="M811,1226 L816,1213 L826,1212 L832,1205 L842,1207 L850,1203 L860,1206 L870,1203 L878,1207 L888,1206 L894,1212 L904,1214 L908,1226 L906,1262 L896,1270 L880,1275 L858,1277 L836,1275 L820,1270 L812,1262 Z" fill="#c2e67b" stroke="#111" stroke-width="2.5" stroke-linejoin="round" />
<ellipse cx="858" cy="1222" rx="25" ry="9" fill="#fff" stroke="#111" stroke-width="2.2" />
<polyline points="818,1236 822,1270" fill="none" stroke="#333" stroke-width="1.6" />
<polyline points="829,1236 833,1270" fill="none" stroke="#333" stroke-width="1.6" />
<polyline points="840,1236 844,1270" fill="none" stroke="#333" stroke-width="1.6" />
<polyline points="851,1236 855,1270" fill="none" stroke="#333" stroke-width="1.6" />
<polyline points="862,1236 866,1270" fill="none" stroke="#333" stroke-width="1.6" />
<polyline points="873,1236 877,1270" fill="none" stroke="#333" stroke-width="1.6" />
<polyline points="884,1236 888,1270" fill="none" stroke="#333" stroke-width="1.6" />
<polyline points="895,1236 899,1270" fill="none" stroke="#333" stroke-width="1.6" />
<polyline points="906,1236 910,1270" fill="none" stroke="#333" stroke-width="1.6" />
<path d="M848,1299 L870,1299 L870,1336 L848,1336 Z" fill="#c2e67b" stroke="#222" stroke-width="2" stroke-linejoin="round" />
<polyline points="849,1303 869,1306" fill="none" stroke="#333" stroke-width="1.6" />
<polyline points="849,1308 869,1311" fill="none" stroke="#333" stroke-width="1.6" />
<polyline points="849,1313 869,1316" fill="none" stroke="#333" stroke-width="1.6" />
<polyline points="849,1318 869,1321" fill="none" stroke="#333" stroke-width="1.6" />
<polyline points="849,1323 869,1326" fill="none" stroke="#333" stroke-width="1.6" />
<polyline points="849,1328 869,1331" fill="none" stroke="#333" stroke-width="1.6" />
<polyline points="849,1333 869,1336" fill="none" stroke="#333" stroke-width="1.6" />
<path d="M817,1377 L817,1396 Q858,1414 899,1396 L899,1377 Z" fill="#c2e67b" stroke="#111" stroke-width="2.5" stroke-linejoin="round" />
<ellipse cx="858" cy="1376" rx="41" ry="17" fill="#c2e67b" stroke="#111" stroke-width="2.5" />
<ellipse cx="858" cy="1380" rx="35" ry="12" fill="#fff" stroke="#111" stroke-width="2" />
<path d="M825,1378 Q858,1362 891,1378" fill="none" stroke="#c2e67b" stroke-width="4" stroke-linejoin="round" />
<path d="M720,1461 L788,1478 Q792,1484 786,1488 L718,1471 Q714,1466 720,1461 Z" fill="#c2e67b" stroke="#111" stroke-width="2.2" stroke-linejoin="round" />
<polyline points="788,1483 827,1493" fill="none" stroke="#111" stroke-width="1.5" />
<path d="M791,1563 Q800,1540 828,1522 L888,1522 Q916,1540 926,1563 Q920,1578 858,1578 Q798,1578 791,1563 Z" fill="#c2e67b" stroke="#111" stroke-width="2.8" stroke-linejoin="round" />
<polyline points="826.1,1540 800.0,1570" fill="none" stroke="#fff" stroke-width="2" />
<polyline points="832.535,1540 811.7,1570" fill="none" stroke="#fff" stroke-width="2" />
<polyline points="838.97,1540 823.4,1570" fill="none" stroke="#fff" stroke-width="2" />
<polyline points="845.405,1540 835.1,1570" fill="none" stroke="#fff" stroke-width="2" />
<polyline points="851.8399999999999,1540 846.8,1570" fill="none" stroke="#fff" stroke-width="2" />
<polyline points="858.275,1540 858.5,1570" fill="none" stroke="#fff" stroke-width="2" />
<polyline points="864.71,1540 870.2,1570" fill="none" stroke="#fff" stroke-width="2" />
<polyline points="871.145,1540 881.9,1570" fill="none" stroke="#fff" stroke-width="2" />
<polyline points="877.58,1540 893.6,1570" fill="none" stroke="#fff" stroke-width="2" />
<polyline points="884.015,1540 905.3,1570" fill="none" stroke="#fff" stroke-width="2" />
<polyline points="890.45,1540 917.0,1570" fill="none" stroke="#fff" stroke-width="2" />
<ellipse cx="858" cy="1530" rx="36" ry="10" fill="#fff" stroke="#111" stroke-width="2" />
<ellipse cx="858" cy="1527" rx="31" ry="8" fill="#c2e67b" stroke="#333" stroke-width="1.5" />
<path d="M827,1465 L827,1526 Q858,1536 889,1526 L889,1465 Z" fill="#c2e67b" stroke="#111" stroke-width="2.5" stroke-linejoin="round" />
<path d="M829,1488 Q858,1498 887,1488" fill="none" stroke="#fff" stroke-width="3" stroke-linejoin="round" />
<ellipse cx="858" cy="1465" rx="31" ry="8" fill="#fff" stroke="#111" stroke-width="2" />
<path d="M838,1453 L838,1467 Q858,1474 878,1467 L878,1453 Z" fill="#c2e67b" stroke="#111" stroke-width="2.2" stroke-linejoin="round" />
<ellipse cx="858" cy="1452" rx="20" ry="6" fill="#c2e67b" stroke="#111" stroke-width="2" />
<ellipse cx="858" cy="1452" rx="10" ry="3" fill="#fff" stroke="#222" stroke-width="1.5" />
<path d="M871,1500 Q877,1493 883,1500 L883,1520 Q877,1527 871,1520 Z" fill="#fff" stroke="#111" stroke-width="2" stroke-linejoin="round" />
<path d="M825,1624 L825,1638 Q832,1646 840,1646 L840,1650 Q856,1656 871,1650 L871,1646 Q882,1646 888,1638 L888,1624 Z" fill="#fff" stroke="#111" stroke-width="2.5" stroke-linejoin="round" />
<ellipse cx="856" cy="1623" rx="31" ry="10" fill="#fff" stroke="#111" stroke-width="2.5" />
<path d="M826,1638 Q856,1650 887,1638" fill="none" stroke="#111" stroke-width="1.5" stroke-linejoin="round" />
<path d="M834,1692 L834,1707 Q856,1718 878,1707 L878,1692 Z" fill="#c2e67b" stroke="#111" stroke-width="2.5" stroke-linejoin="round" />
<ellipse cx="856" cy="1692" rx="22" ry="7" fill="#c2e67b" stroke="#111" stroke-width="2.5" />
<ellipse cx="856" cy="1694" rx="17" ry="5" fill="none" stroke="#333" stroke-width="1.5" />
<path d="M1715,986 Q1716,968 1736,961 L1810,975 Q1822,985 1819,995 Q1817,1015 1812,1022 Q1805,1030 1794,1030 L1725,1013 Q1714,1002 1715,986 Z" fill="#ff700a" stroke="#111" stroke-width="2.8" stroke-linejoin="round" />
<ellipse cx="1797" cy="1002" rx="21" ry="27" fill="#ff700a" stroke="#ddd" stroke-width="2.5" transform="rotate(-15 1797 1002)" />
<ellipse cx="1750" cy="995" rx="18" ry="22" fill="#f4f4f4" stroke="#111" stroke-width="2.5" transform="rotate(-15 1750 995)" />
<path d="M1740,985 Q1750,990 1755,1010 M1746,980 Q1758,988 1762,1003" fill="none" stroke="#555" stroke-width="1.5" stroke-linejoin="round" />
<polyline points="1689,1022 1866,950" fill="none" stroke="#222" stroke-width="1.5" />
<path d="M1818,960 Q1822,948 1838,949 Q1856,955 1857,970 Q1854,982 1840,982 Q1820,978 1818,960 Z" fill="#f7d898" stroke="#444" stroke-width="2" stroke-linejoin="round" />
<path d="M1822,962 Q1824,952 1838,952" fill="none" stroke="#aaa" stroke-width="2" stroke-linejoin="round" />
<path d="M1700,1115 L1700,1058 Q1702,1045 1709,1042 Q1720,1036 1731,1037 Q1748,1040 1754,1043 Q1762,1050 1763,1058 L1768,1061 Q1772,1055 1776,1054 L1797,1052 Q1815,1055 1821,1060 Q1829,1065 1830,1069 L1830,1112 L1794,1130 L1788,1153 L1786,1198 Q1776,1206 1767,1205 Q1748,1207 1740,1202 L1738,1155 L1734,1133 Z" fill="#ff700a" stroke="#111" stroke-width="2.8" stroke-linejoin="round" />
<ellipse cx="1731" cy="1070" rx="19.8" ry="27" fill="#fff" stroke="#111" stroke-width="2.5" transform="rotate(-10 1731 1070)" />
<ellipse cx="1797" cy="1087" rx="19.8" ry="27" fill="#fff" stroke="#111" stroke-width="2.5" transform="rotate(-10 1797 1087)" />
<path d="M1707,1112 L1707,1060 Q1710,1046 1731,1043 Q1752,1046 1757,1060 L1762,1120" fill="none" stroke="#ddd" stroke-width="2" stroke-linejoin="round" />
<path d="M1708,1118 L1760,1094" fill="none" stroke="#ccc" stroke-width="2" stroke-linejoin="round" />
<path d="M1762,1062 L1762,1120 L1704,1110" fill="none" stroke="#111" stroke-width="1.8" stroke-linejoin="round" />
<path d="M1738,1140 Q1762,1148 1790,1140" fill="none" stroke="#111" stroke-width="2" stroke-linejoin="round" />
<path d="M1740,1157 Q1762,1163 1788,1157" fill="none" stroke="#111" stroke-width="2" stroke-linejoin="round" />
<polygon points="1258.3,1218.6 1675.3,1054.6 1660.7,1017.4 1243.7,1181.4" fill="#f7d898" stroke="#111" stroke-width="2.5" stroke-linejoin="round" />
<path d="M1264.1,1216.3 Q1268.9,1193.0 1249.5,1179.1" fill="none" stroke="#2a2a2a" stroke-width="1.7"/>
<path d="M1275.7,1211.8 Q1280.5,1188.4 1261.1,1174.6" fill="none" stroke="#2a2a2a" stroke-width="1.7"/>
<path d="M1287.3,1207.2 Q1292.1,1183.9 1272.6,1170.0" fill="none" stroke="#2a2a2a" stroke-width="1.7"/>
<path d="M1298.9,1202.7 Q1303.6,1179.3 1284.2,1165.4" fill="none" stroke="#2a2a2a" stroke-width="1.7"/>
<path d="M1310.4,1198.1 Q1315.2,1174.7 1295.8,1160.9" fill="none" stroke="#2a2a2a" stroke-width="1.7"/>
<path d="M1322.0,1193.6 Q1326.8,1170.2 1307.4,1156.3" fill="none" stroke="#2a2a2a" stroke-width="1.7"/>
<path d="M1333.6,1189.0 Q1338.4,1165.6 1319.0,1151.8" fill="none" stroke="#2a2a2a" stroke-width="1.7"/>
<path d="M1345.2,1184.4 Q1350.0,1161.1 1330.6,1147.2" fill="none" stroke="#2a2a2a" stroke-width="1.7"/>
<path d="M1356.8,1179.9 Q1361.6,1156.5 1342.1,1142.7" fill="none" stroke="#2a2a2a" stroke-width="1.7"/>
<path d="M1368.4,1175.3 Q1373.1,1152.0 1353.7,1138.1" fill="none" stroke="#2a2a2a" stroke-width="1.7"/>
<path d="M1379.9,1170.8 Q1384.7,1147.4 1365.3,1133.6" fill="none" stroke="#2a2a2a" stroke-width="1.7"/>
<path d="M1391.5,1166.2 Q1396.3,1142.9 1376.9,1129.0" fill="none" stroke="#2a2a2a" stroke-width="1.7"/>
<path d="M1403.1,1161.7 Q1407.9,1138.3 1388.5,1124.4" fill="none" stroke="#2a2a2a" stroke-width="1.7"/>
<path d="M1414.7,1157.1 Q1419.5,1133.7 1400.1,1119.9" fill="none" stroke="#2a2a2a" stroke-width="1.7"/>
<path d="M1426.3,1152.6 Q1431.1,1129.2 1411.6,1115.3" fill="none" stroke="#2a2a2a" stroke-width="1.7"/>
<path d="M1437.9,1148.0 Q1442.6,1124.6 1423.2,1110.8" fill="none" stroke="#2a2a2a" stroke-width="1.7"/>
<path d="M1449.4,1143.4 Q1454.2,1120.1 1434.8,1106.2" fill="none" stroke="#2a2a2a" stroke-width="1.7"/>
<path d="M1461.0,1138.9 Q1465.8,1115.5 1446.4,1101.7" fill="none" stroke="#2a2a2a" stroke-width="1.7"/>
<path d="M1472.6,1134.3 Q1477.4,1111.0 1458.0,1097.1" fill="none" stroke="#2a2a2a" stroke-width="1.7"/>
<path d="M1484.2,1129.8 Q1489.0,1106.4 1469.6,1092.6" fill="none" stroke="#2a2a2a" stroke-width="1.7"/>
<path d="M1495.8,1125.2 Q1500.6,1101.9 1481.1,1088.0" fill="none" stroke="#2a2a2a" stroke-width="1.7"/>
<path d="M1507.4,1120.7 Q1512.1,1097.3 1492.7,1083.4" fill="none" stroke="#2a2a2a" stroke-width="1.7"/>
<path d="M1518.9,1116.1 Q1523.7,1092.7 1504.3,1078.9" fill="none" stroke="#2a2a2a" stroke-width="1.7"/>
<path d="M1530.5,1111.6 Q1535.3,1088.2 1515.9,1074.3" fill="none" stroke="#2a2a2a" stroke-width="1.7"/>
<path d="M1542.1,1107.0 Q1546.9,1083.6 1527.5,1069.8" fill="none" stroke="#2a2a2a" stroke-width="1.7"/>
<path d="M1553.7,1102.4 Q1558.5,1079.1 1539.1,1065.2" fill="none" stroke="#2a2a2a" stroke-width="1.7"/>
<path d="M1565.3,1097.9 Q1570.1,1074.5 1550.6,1060.7" fill="none" stroke="#2a2a2a" stroke-width="1.7"/>
<path d="M1576.9,1093.3 Q1581.6,1070.0 1562.2,1056.1" fill="none" stroke="#2a2a2a" stroke-width="1.7"/>
<path d="M1588.4,1088.8 Q1593.2,1065.4 1573.8,1051.6" fill="none" stroke="#2a2a2a" stroke-width="1.7"/>
<path d="M1600.0,1084.2 Q1604.8,1060.9 1585.4,1047.0" fill="none" stroke="#2a2a2a" stroke-width="1.7"/>
<path d="M1611.6,1079.7 Q1616.4,1056.3 1597.0,1042.4" fill="none" stroke="#2a2a2a" stroke-width="1.7"/>
<path d="M1623.2,1075.1 Q1628.0,1051.7 1608.6,1037.9" fill="none" stroke="#2a2a2a" stroke-width="1.7"/>
<path d="M1634.8,1070.6 Q1639.6,1047.2 1620.1,1033.3" fill="none" stroke="#2a2a2a" stroke-width="1.7"/>
<path d="M1646.4,1066.0 Q1651.1,1042.6 1631.7,1028.8" fill="none" stroke="#2a2a2a" stroke-width="1.7"/>
<path d="M1657.9,1061.4 Q1662.7,1038.1 1643.3,1024.2" fill="none" stroke="#2a2a2a" stroke-width="1.7"/>
<path d="M1669.5,1056.9 Q1674.3,1033.5 1654.9,1019.7" fill="none" stroke="#2a2a2a" stroke-width="1.7"/>
<path d="M1664,1018 L1686,1012 Q1697,1016 1696,1026 Q1694,1036 1686,1037 L1672,1048 Z" fill="#f7d898" stroke="#111" stroke-width="2.2" stroke-linejoin="round" />
<path d="M1203,1199 L1243,1183 L1262,1218 L1212,1234 Q1200,1218 1203,1199 Z" fill="#f7d898" stroke="#111" stroke-width="2.2" stroke-linejoin="round" />
<path d="M1158,1218 Q1160,1200 1176,1198 L1196,1200 Q1208,1210 1212,1232 Q1210,1252 1196,1257 L1178,1256 Q1160,1242 1158,1218 Z" fill="#f7d898" stroke="#111" stroke-width="2.2" stroke-linejoin="round" />
<ellipse cx="1178" cy="1229" rx="12" ry="22" fill="#fff" stroke="#222" stroke-width="1.8" transform="rotate(-10 1178 1229)" />
<path d="M1082,1250 Q1084,1215 1112,1203 L1140,1202 Q1168,1210 1176,1240 Q1178,1278 1150,1292 L1120,1294 Q1088,1284 1082,1250 Z" fill="#f7d898" stroke="#111" stroke-width="2.5" stroke-linejoin="round" />
<ellipse cx="1110" cy="1250" rx="27" ry="45" fill="none" stroke="#bbb" stroke-width="3" transform="rotate(-15 1110 1250)" />
<ellipse cx="1125" cy="1251" rx="17" ry="25" fill="#fff" stroke="#111" stroke-width="2" transform="rotate(-15 1125 1251)" />
<path d="M1025,1250 L1088,1242 Q1102,1262 1100,1290 L1047,1310 Z" fill="#f7d898" stroke="#111" stroke-width="2.2" stroke-linejoin="round" />
<path d="M953,1300 L960,1272 L972,1262 L985,1252 L1000,1254 L1015,1250 L1030,1256 L1045,1268 L1050,1290 L1048,1318 L1038,1335 L1022,1345 L1000,1348 L980,1342 L965,1330 Z" fill="#f7d898" stroke="#111" stroke-width="2.5" stroke-linejoin="round" />
<ellipse cx="998" cy="1303" rx="12" ry="16" fill="#fff" stroke="#111" stroke-width="2" />
<polyline points="1014.0,1303.0 1034.0,1303.0" fill="none" stroke="#555" stroke-width="1.3" />
<polyline points="1011.856406460551,1313.0 1029.1769145362398,1325.5" fill="none" stroke="#555" stroke-width="1.3" />
<polyline points="1006.0,1320.3205080756888 1016.0,1341.9711431702997" fill="none" stroke="#555" stroke-width="1.3" />
<polyline points="998.0,1323.0 998.0,1348.0" fill="none" stroke="#555" stroke-width="1.3" />
<polyline points="990.0,1320.3205080756888 980.0,1341.9711431702997" fill="none" stroke="#555" stroke-width="1.3" />
<polyline points="984.143593539449,1313.0 966.8230854637602,1325.5" fill="none" stroke="#555" stroke-width="1.3" />
<polyline points="982.0,1303.0 962.0,1303.0" fill="none" stroke="#555" stroke-width="1.3" />
<polyline points="984.143593539449,1293.0 966.8230854637602,1280.5" fill="none" stroke="#555" stroke-width="1.3" />
<polyline points="990.0,1285.6794919243112 980.0,1264.0288568297003" fill="none" stroke="#555" stroke-width="1.3" />
<polyline points="998.0,1283.0 998.0,1258.0" fill="none" stroke="#555" stroke-width="1.3" />
<polyline points="1006.0,1285.6794919243112 1016.0,1264.0288568297003" fill="none" stroke="#555" stroke-width="1.3" />
<polyline points="1011.856406460551,1293.0 1029.1769145362398,1280.5" fill="none" stroke="#555" stroke-width="1.3" />
<polyline points="947,1320 1100,1255" fill="none" stroke="#222" stroke-width="1.5" />
<path d="M1095,1300 L1147,1316 Q1150,1322 1146,1325 L1093,1309 Z" fill="#f7d898" stroke="#111" stroke-width="2" stroke-linejoin="round" />
<polyline points="1146,1321 1160,1325" fill="none" stroke="#222" stroke-width="1.3" />
<path d="M263,1086 L552,1023 L556,1034 L266,1097 Q258,1092 263,1086 Z" fill="#819cbc" stroke="#111" stroke-width="2" stroke-linejoin="round" />
<path d="M263,1086 L318,1074 L321,1085 L266,1097 Q258,1092 263,1086 Z" fill="#eee" stroke="#111" stroke-width="1.8" stroke-linejoin="round" />
<polyline points="268,1086.0 270,1099.0" fill="none" stroke="#555" stroke-width="1.3" />
<polyline points="273,1084.9 275,1097.9" fill="none" stroke="#555" stroke-width="1.3" />
<polyline points="278,1083.8 280,1096.8" fill="none" stroke="#555" stroke-width="1.3" />
<polyline points="283,1082.7 285,1095.7" fill="none" stroke="#555" stroke-width="1.3" />
<polyline points="288,1081.6 290,1094.6" fill="none" stroke="#555" stroke-width="1.3" />
<polyline points="293,1080.5 295,1093.5" fill="none" stroke="#555" stroke-width="1.3" />
<polyline points="298,1079.4 300,1092.4" fill="none" stroke="#555" stroke-width="1.3" />
<polyline points="303,1078.3 305,1091.3" fill="none" stroke="#555" stroke-width="1.3" />
<path d="M550,1019 Q552,1012 566,1015 L576,1018 Q582,1026 578,1038 L566,1041 Q552,1040 552,1036 Z" fill="#819cbc" stroke="#111" stroke-width="2.2" stroke-linejoin="round" />
<ellipse cx="572" cy="1029" rx="6" ry="11" fill="#aab" stroke="#111" stroke-width="1.5" />
<ellipse cx="430" cy="1286" rx="57" ry="77" fill="#819cbc" stroke="#111" stroke-width="2.5" transform="rotate(-12 430 1286)" />
<ellipse cx="424" cy="1289" rx="48" ry="66" fill="#fff" stroke="#333" stroke-width="1.5" transform="rotate(-12 424 1289)" />
<ellipse cx="436" cy="1291" rx="38" ry="58" fill="#819cbc" stroke="#333" stroke-width="1.5" transform="rotate(-12 436 1291)" />
<path d="M392,1226 Q378,1280 388,1340" fill="none" stroke="#777" stroke-width="1.5" stroke-linejoin="round" />
<path d="M368,1232 L392,1240 Q418,1290 410,1356 L386,1392 L378,1398 Z" fill="#819cbc" stroke="#111" stroke-width="2.2" stroke-linejoin="round" />
<path d="M200,1254 L224,1231 L313,1214 L368,1230 L392,1255 L409,1301 L409,1356 L378,1399 L282,1418 L234,1404 L221,1392 Z" fill="#fff" stroke="#111" stroke-width="2.8" stroke-linejoin="round" />
<path d="M224,1231 L313,1214 L368,1230 L360,1240 L272,1254 Z" fill="#cfd6df" stroke="#333" stroke-width="1.2" stroke-linejoin="round" />
<polyline points="282,1250.0 284,1410.0" fill="none" stroke="#444" stroke-width="1.1" />
<polyline points="287,1249.1 289,1409.0" fill="none" stroke="#444" stroke-width="1.1" />
<polyline points="292,1248.2 294,1408.0" fill="none" stroke="#444" stroke-width="1.1" />
<polyline points="297,1247.3 299,1407.0" fill="none" stroke="#444" stroke-width="1.1" />
<polyline points="302,1246.4 304,1406.0" fill="none" stroke="#444" stroke-width="1.1" />
<polyline points="307,1245.5 309,1405.0" fill="none" stroke="#444" stroke-width="1.1" />
<polyline points="312,1244.6 314,1404.0" fill="none" stroke="#444" stroke-width="1.1" />
<polyline points="317,1243.7 319,1403.0" fill="none" stroke="#444" stroke-width="1.1" />
<polyline points="322,1242.8 324,1402.0" fill="none" stroke="#444" stroke-width="1.1" />
<polyline points="327,1241.9 329,1401.0" fill="none" stroke="#444" stroke-width="1.1" />
<polyline points="332,1241.0 334,1400.0" fill="none" stroke="#444" stroke-width="1.1" />
<polyline points="337,1240.1 339,1399.0" fill="none" stroke="#444" stroke-width="1.1" />
<polyline points="342,1239.2 344,1398.0" fill="none" stroke="#444" stroke-width="1.1" />
<polyline points="347,1238.3 349,1397.0" fill="none" stroke="#444" stroke-width="1.1" />
<polyline points="352,1237.4 354,1396.0" fill="none" stroke="#444" stroke-width="1.1" />
<polyline points="357,1236.5 359,1395.0" fill="none" stroke="#444" stroke-width="1.1" />
<polyline points="362,1235.6 364,1394.0" fill="none" stroke="#444" stroke-width="1.1" />
<polyline points="367,1234.7 369,1393.0" fill="none" stroke="#444" stroke-width="1.1" />
<polyline points="372,1233.8 374,1392.0" fill="none" stroke="#444" stroke-width="1.1" />
<polyline points="377,1232.9 379,1391.0" fill="none" stroke="#444" stroke-width="1.1" />
<polyline points="382,1232.0 384,1390.0" fill="none" stroke="#444" stroke-width="1.1" />
<polyline points="387,1231.1 389,1389.0" fill="none" stroke="#444" stroke-width="1.1" />
<polyline points="392,1230.2 394,1388.0" fill="none" stroke="#444" stroke-width="1.1" />
<polyline points="397,1229.3 399,1387.0" fill="none" stroke="#444" stroke-width="1.1" />
<path d="M288,1269 L380,1248 L386,1262 L292,1282 Z" fill="#fff" stroke="#333" stroke-width="1.5" stroke-linejoin="round" />
<path d="M318,1310 L405,1300" fill="none" stroke="#333" stroke-width="1.5" stroke-linejoin="round" />
<path d="M320,1370 L400,1360" fill="none" stroke="#333" stroke-width="1.5" stroke-linejoin="round" />
<path d="M186,1290 L200,1254 L224,1231 Q262,1236 282,1262 Q312,1300 316,1345 Q316,1392 296,1412 L282,1418 L234,1404 Q205,1385 192,1350 Z" fill="#819cbc" stroke="#111" stroke-width="2.5" stroke-linejoin="round" />
<path d="M224,1231 Q262,1236 282,1262 Q312,1300 316,1345 Q316,1392 296,1412" fill="none" stroke="#111" stroke-width="2.5" stroke-linejoin="round" />
<ellipse cx="238" cy="1332" rx="31" ry="59" fill="#fff" stroke="#111" stroke-width="2.2" transform="rotate(-8 238 1332)" />
<polyline points="214,1290 258,1285" fill="none" stroke="#333" stroke-width="1.2" />
<polyline points="214,1300 258,1295" fill="none" stroke="#333" stroke-width="1.2" />
<polyline points="214,1310 258,1305" fill="none" stroke="#333" stroke-width="1.2" />
<polyline points="214,1320 258,1315" fill="none" stroke="#333" stroke-width="1.2" />
<polyline points="214,1330 258,1325" fill="none" stroke="#333" stroke-width="1.2" />
<polyline points="214,1340 258,1335" fill="none" stroke="#333" stroke-width="1.2" />
<polyline points="214,1350 258,1345" fill="none" stroke="#333" stroke-width="1.2" />
<polyline points="214,1360 258,1355" fill="none" stroke="#333" stroke-width="1.2" />
<polyline points="214,1370 258,1365" fill="none" stroke="#333" stroke-width="1.2" />
<path d="M252,1280 Q272,1330 258,1392" fill="none" stroke="#111" stroke-width="5" stroke-linejoin="round" />
<ellipse cx="246" cy="1330" rx="58" ry="80" fill="none" stroke="#333" stroke-width="1.2" transform="rotate(-12 246 1330)" />
<path d="M112,1290 Q140,1262 170,1268 L192,1272 Q226,1300 222,1360 Q216,1408 186,1424 L160,1424 Q108,1410 102,1350 Q100,1310 112,1290 Z" fill="#819cbc" stroke="#111" stroke-width="2.5" stroke-linejoin="round" />
<ellipse cx="152" cy="1354" rx="50" ry="72" fill="#819cbc" stroke="#111" stroke-width="2.2" transform="rotate(-12 152 1354)" />
<ellipse cx="152" cy="1354" rx="43" ry="64" fill="#fff" stroke="#333" stroke-width="1.5" transform="rotate(-12 152 1354)" />
<ellipse cx="156" cy="1352" rx="36" ry="56" fill="#819cbc" stroke="#333" stroke-width="1.5" transform="rotate(-12 156 1352)" />
<polyline points="97,1356 230,1329" fill="none" stroke="#222" stroke-width="1.5" stroke-dasharray="14 6" />
<path d="M353,1400 Q378,1430 390,1459 Q410,1495 443,1508" fill="none" stroke="#111" stroke-width="7" stroke-linejoin="round" />
<path d="M353,1400 Q378,1430 390,1459 Q410,1495 443,1508" fill="none" stroke="#819cbc" stroke-width="4" stroke-linejoin="round" />
<polyline points="440,1506 452,1500" fill="none" stroke="#333" stroke-width="1.2" />
<polyline points="440,1508 450,1516" fill="none" stroke="#333" stroke-width="1.2" />
<ellipse cx="521" cy="1268" rx="33" ry="36" fill="#819cbc" stroke="#111" stroke-width="2.2" transform="rotate(-15 521 1268)" />
<ellipse cx="516" cy="1270" rx="28" ry="31" fill="none" stroke="#ddd" stroke-width="2" transform="rotate(-15 516 1270)" />
<ellipse cx="512" cy="1272" rx="10" ry="17" fill="#fff" stroke="#111" stroke-width="1.8" transform="rotate(-15 512 1272)" />
<path d="M563,1236 Q572,1222 585,1226 Q600,1220 610,1232 Q620,1245 612,1260 Q618,1275 606,1286 Q592,1292 580,1286 Q566,1288 560,1274 Q554,1258 563,1236 Z" fill="#819cbc" stroke="#111" stroke-width="2.2" stroke-linejoin="round" />
<path d="M576,1248 Q585,1240 596,1248 Q604,1258 596,1268 Q586,1276 576,1268 Q570,1258 576,1248 Z" fill="#fff" stroke="#111" stroke-width="1.8" stroke-linejoin="round" />
<polyline points="440,1300 660,1246" fill="none" stroke="#222" stroke-width="1.3" stroke-dasharray="20 6" />
<path d="M702,1215 Q722,1225 720,1250 Q718,1268 702,1272 Z" fill="#819cbc" stroke="#111" stroke-width="2.2" stroke-linejoin="round" />
<path d="M543,1179 L549,1168 L591,1157 L576,1152 L574,1144 L584,1136 L624,1128 L647,1134 L665,1138 L678,1142 L696,1163 L704,1177 L704,1185 L741,1190 L743,1194 L723,1204 L702,1229 L701,1331 L678,1350 L675,1363 L627,1374 L581,1362 L574,1336 L581,1326 L611,1313 L620,1309 L620,1212 L585,1173 Z" fill="#819cbc" stroke="#111" stroke-width="2.5" stroke-linejoin="round" />
<path d="M576,1150 Q610,1150 635,1160 Q660,1172 668,1176" fill="none" stroke="#111" stroke-width="6" stroke-linejoin="round" />
<path d="M576,1150 Q610,1150 635,1160 Q660,1172 668,1176" fill="none" stroke="#fff" stroke-width="3" stroke-linejoin="round" />
<path d="M620,1212 L585,1173 L549,1176 Q565,1170 591,1168" fill="none" stroke="#fff" stroke-width="2.5" stroke-linejoin="round" />
<path d="M662,1195 L704,1185 L741,1190 L743,1194 L676,1205 Z" fill="#fff" stroke="#111" stroke-width="1.8" stroke-linejoin="round" />
<path d="M702,1229 L723,1204" fill="none" stroke="#fff" stroke-width="3" stroke-linejoin="round" />
<path d="M611,1313 Q640,1335 690,1340" fill="none" stroke="#111" stroke-width="6" stroke-linejoin="round" />
<path d="M611,1313 Q640,1335 690,1340" fill="none" stroke="#fff" stroke-width="3.5" stroke-linejoin="round" />
<path d="M581,1326 Q610,1350 655,1358" fill="none" stroke="#fff" stroke-width="2.5" stroke-linejoin="round" />
<ellipse cx="657" cy="1243" rx="28" ry="38" fill="#fff" stroke="#111" stroke-width="2.2" transform="rotate(-8 657 1243)" />
<path d="M664,1212 Q686,1243 664,1276" fill="none" stroke="#444" stroke-width="1.2" stroke-linejoin="round" />
<path d="M668,1214 Q685,1243 668,1274" fill="none" stroke="#444" stroke-width="1.2" stroke-linejoin="round" />
<path d="M672,1216 Q684,1243 672,1272" fill="none" stroke="#444" stroke-width="1.2" stroke-linejoin="round" />
<path d="M676,1218 Q683,1243 676,1270" fill="none" stroke="#444" stroke-width="1.2" stroke-linejoin="round" />
<ellipse cx="584" cy="1144" rx="6" ry="6" fill="#fff" stroke="#111" stroke-width="1.8" />
<ellipse cx="632" cy="1156" rx="6" ry="7" fill="#fff" stroke="#111" stroke-width="1.8" />
<ellipse cx="584" cy="1346" rx="6" ry="7" fill="#fff" stroke="#111" stroke-width="1.8" />
<ellipse cx="634" cy="1379" rx="6" ry="7" fill="#fff" stroke="#111" stroke-width="1.8" />
<ellipse cx="636" cy="1298" rx="5" ry="8" fill="#fff" stroke="#111" stroke-width="1.5" transform="rotate(-15 636 1298)" />
<ellipse cx="676" cy="1315" rx="5" ry="8" fill="#fff" stroke="#111" stroke-width="1.5" transform="rotate(-15 676 1315)" />
<path d="M716,1290 L728,1290 L727,1322 L717,1322 Z" fill="#eee" stroke="#333" stroke-width="1.5" stroke-linejoin="round" />
<polyline points="716,1294 728,1296" fill="none" stroke="#666" stroke-width="1.2" />
<polyline points="716,1299 728,1301" fill="none" stroke="#666" stroke-width="1.2" />
<polyline points="716,1304 728,1306" fill="none" stroke="#666" stroke-width="1.2" />
<polyline points="716,1309 728,1311" fill="none" stroke="#666" stroke-width="1.2" />
<polyline points="716,1314 728,1316" fill="none" stroke="#666" stroke-width="1.2" />
<polyline points="716,1319 728,1321" fill="none" stroke="#666" stroke-width="1.2" />
<ellipse cx="722" cy="1329" rx="16" ry="7" fill="#eee" stroke="#333" stroke-width="1.8" />
<path d="M706,1329 L706,1334 Q722,1342 738,1334 L738,1329" fill="none" stroke="#333" stroke-width="1.5" stroke-linejoin="round" />
<path d="M358,1611 L436,1593 L454,1629 L365,1642 Z" fill="#819cbc" stroke="#111" stroke-width="2.2" stroke-linejoin="round" />
<ellipse cx="365" cy="1627" rx="8" ry="16" fill="#819cbc" stroke="#111" stroke-width="2" transform="rotate(-12 365 1627)" />
<path d="M385,1605 Q392,1620 388,1638" fill="none" stroke="#ddd" stroke-width="1.5" stroke-linejoin="round" />
<path d="M540,1566 L678,1539 L696,1575 L554,1606 Z" fill="#819cbc" stroke="#111" stroke-width="2.2" stroke-linejoin="round" />
<path d="M560,1600 L690,1570" fill="none" stroke="#eee" stroke-width="1.5" stroke-linejoin="round" />
<path d="M647,1545 L696,1535 Q702,1552 698,1574 L650,1585 Z" fill="#b8bfc8" stroke="#111" stroke-width="2" stroke-linejoin="round" />
<path d="M652,1544.0 Q658,1565.0 653,1585.0" fill="none" stroke="#444" stroke-width="1.5" stroke-linejoin="round" />
<path d="M660,1542.5 Q666,1563.5 661,1583.5" fill="none" stroke="#444" stroke-width="1.5" stroke-linejoin="round" />
<path d="M668,1541.0 Q674,1562.0 669,1582.0" fill="none" stroke="#444" stroke-width="1.5" stroke-linejoin="round" />
<path d="M676,1539.5 Q682,1560.5 677,1580.5" fill="none" stroke="#444" stroke-width="1.5" stroke-linejoin="round" />
<path d="M684,1538.0 Q690,1559.0 685,1579.0" fill="none" stroke="#444" stroke-width="1.5" stroke-linejoin="round" />
<path d="M692,1536.5 Q698,1557.5 693,1577.5" fill="none" stroke="#444" stroke-width="1.5" stroke-linejoin="round" />
<path d="M433,1561 L509,1547 Q545,1570 536,1620 Q530,1642 520,1646 L442,1660 Z" fill="#819cbc" stroke="#111" stroke-width="2.5" stroke-linejoin="round" />
<path d="M500,1549 Q540,1580 526,1640" fill="none" stroke="#fff" stroke-width="3" stroke-linejoin="round" />
<polyline points="450,1570 520,1560" fill="none" stroke="#ccc" stroke-width="1" />
<polyline points="450,1588 520,1578" fill="none" stroke="#ccc" stroke-width="1" />
<polyline points="450,1606 520,1596" fill="none" stroke="#ccc" stroke-width="1" />
<polyline points="450,1624 520,1614" fill="none" stroke="#ccc" stroke-width="1" />
<ellipse cx="433" cy="1611" rx="27" ry="50" fill="#819cbc" stroke="#111" stroke-width="2.2" transform="rotate(-12 433 1611)" />
<path d="M410,1593 L436,1588 Q450,1605 444,1630 L418,1636 Z" fill="#819cbc" stroke="#111" stroke-width="2" stroke-linejoin="round" />
<ellipse cx="414" cy="1614" rx="6" ry="20" fill="#aab" stroke="#111" stroke-width="1.5" transform="rotate(-12 414 1614)" />
<ellipse cx="322" cy="1638" rx="28" ry="33" fill="#819cbc" stroke="#111" stroke-width="2.2" transform="rotate(-12 322 1638)" />
<ellipse cx="314" cy="1640" rx="15" ry="24" fill="#fff" stroke="#333" stroke-width="1.8" transform="rotate(-12 314 1640)" />
<ellipse cx="314" cy="1640" rx="8" ry="16" fill="#819cbc" stroke="#333" stroke-width="1.5" transform="rotate(-12 314 1640)" />
<path d="M258,1626 L290,1616 Q305,1640 296,1672 L268,1680 Z" fill="#819cbc" stroke="#111" stroke-width="2.2" stroke-linejoin="round" />
<ellipse cx="263" cy="1652" rx="12" ry="26" fill="#819cbc" stroke="#111" stroke-width="2" transform="rotate(-12 263 1652)" />
<ellipse cx="265" cy="1646" rx="5" ry="6" fill="#fff" stroke="#333" stroke-width="1.2" />
<path d="M218,1630 Q226,1620 240,1621 Q256,1618 264,1632 Q270,1650 262,1664 Q266,1680 252,1686 Q236,1690 226,1680 Q212,1676 214,1660 Q208,1645 218,1630 Z" fill="#819cbc" stroke="#111" stroke-width="2.2" stroke-linejoin="round" />
<path d="M230,1645 Q238,1636 248,1645 Q254,1656 246,1666 Q238,1672 230,1664 Q225,1655 230,1645 Z" fill="#fff" stroke="#111" stroke-width="1.8" stroke-linejoin="round" />
<path d="M102,1608 L111,1587 L130,1571 L150,1562 L152,1556 L194,1549 L201,1558 L235,1564 L239,1582 L242,1587 L235,1595 L212,1606 L207,1617 L209,1632 L205,1640 L203,1754 L250,1758 L250,1762 L239,1767 L209,1780 L194,1773 L162,1771 L124,1749 L102,1707 L98,1670 Z" fill="#819cbc" stroke="#111" stroke-width="2.5" stroke-linejoin="round" />
<path d="M59,1608 L61,1605 L98,1599 L102,1608 L83,1616 L63,1613 Z" fill="#fff" stroke="#111" stroke-width="1.8" stroke-linejoin="round" />
<path d="M83,1616 L110,1670 L124,1668 L122,1616" fill="none" stroke="#111" stroke-width="1.5" stroke-linejoin="round" />
<path d="M136,1629 L165,1620 L218,1618 L216,1628 L170,1636 L176,1690 L192,1684" fill="none" stroke="#111" stroke-width="7" stroke-linejoin="round" />
<path d="M136,1629 L165,1620 L218,1618 L216,1628 L170,1636 L176,1690 L192,1684" fill="none" stroke="#fff" stroke-width="4" stroke-linejoin="round" />
<path d="M122,1616 L150,1665" fill="none" stroke="#111" stroke-width="7" stroke-linejoin="round" />
<path d="M122,1616 L150,1665" fill="none" stroke="#fff" stroke-width="4" stroke-linejoin="round" />
<path d="M203,1642 L205,1756 L211,1764" fill="none" stroke="#111" stroke-width="8" stroke-linejoin="round" />
<path d="M203,1642 L205,1756 L211,1764" fill="none" stroke="#fff" stroke-width="5" stroke-linejoin="round" />
<ellipse cx="145" cy="1674" rx="10" ry="18" fill="#fff" stroke="#111" stroke-width="1.8" transform="rotate(-15 145 1674)" />
<ellipse cx="141" cy="1713" rx="3.5" ry="5.5" fill="#fff" stroke="#111" stroke-width="1.3" />
<ellipse cx="164" cy="1720" rx="3.5" ry="5.5" fill="#fff" stroke="#111" stroke-width="1.3" />
<ellipse cx="156" cy="1559" rx="5" ry="5" fill="#fff" stroke="#111" stroke-width="1.5" />
<ellipse cx="206" cy="1576" rx="5" ry="7" fill="#fff" stroke="#111" stroke-width="1.5" />
<path d="M205,1757 L245,1760 L240,1768 L210,1778 Z" fill="#fff" stroke="#222" stroke-width="1.3" stroke-linejoin="round" />
<ellipse cx="70" cy="1582" rx="11" ry="10" fill="#819cbc" stroke="#111" stroke-width="2" />
<ellipse cx="70" cy="1582" rx="5" ry="5" fill="none" stroke="#333" stroke-width="1.3" />
<polyline points="44,1588 228,1551" fill="none" stroke="#222" stroke-width="1.3" />
<path d="M80,1754 L94,1754 L94,1786 L80,1786 Z" fill="#eee" stroke="#333" stroke-width="1.5" stroke-linejoin="round" />
<polyline points="79,1757 95,1759" fill="none" stroke="#666" stroke-width="1.3" />
<polyline points="79,1762 95,1764" fill="none" stroke="#666" stroke-width="1.3" />
<polyline points="79,1767 95,1769" fill="none" stroke="#666" stroke-width="1.3" />
<polyline points="79,1772 95,1774" fill="none" stroke="#666" stroke-width="1.3" />
<polyline points="79,1777 95,1779" fill="none" stroke="#666" stroke-width="1.3" />
<polyline points="79,1782 95,1784" fill="none" stroke="#666" stroke-width="1.3" />
<ellipse cx="87" cy="1792" rx="14" ry="6" fill="#eee" stroke="#333" stroke-width="1.8" />
<path d="M73,1792 L73,1797 Q87,1804 101,1797 L101,1792" fill="none" stroke="#333" stroke-width="1.5" stroke-linejoin="round" />
<path d="M911,1708 L918,1703 L1489,1442 L1508,1435 L1573,1445 Q1590,1455 1592,1468 Q1592,1480 1587,1489 L1034,1760 L1034,1776 L1029,1783 L1018,1782 L1025,1771 L939,1741 L927,1748 Q915,1740 913,1729 Z" fill="#30eaf9" stroke="#111" stroke-width="2.8" stroke-linejoin="round" />
<path d="M983,1707 L1395,1512 L1398,1518 L986,1713 Z" fill="#fff" stroke="#222" stroke-width="1.5" stroke-linejoin="round" />
<path d="M1035,1709 L1494,1486 L1498,1499 L1052,1726 Z" fill="#fff" stroke="#222" stroke-width="1.5" stroke-linejoin="round" />
<path d="M1030,1747 L1583,1475" fill="none" stroke="#fff" stroke-width="4" stroke-linejoin="round" />
<path d="M1030,1747 L1583,1475" fill="none" stroke="#333" stroke-width="1.2" stroke-linejoin="round" />
<path d="M1024,1770 L1030,1747 L1034,1760" fill="none" stroke="#fff" stroke-width="3" stroke-linejoin="round" />
<path d="M918,1703 L925,1745" fill="none" stroke="#fff" stroke-width="3" stroke-linejoin="round" />
<path d="M925,1710 Q918,1720 925,1745" fill="none" stroke="#333" stroke-width="1.2" stroke-linejoin="round" />
<ellipse cx="972" cy="1734" rx="19" ry="7" fill="#fff" stroke="#111" stroke-width="1.8" />
<ellipse cx="1014" cy="1723" rx="17" ry="6" fill="#fff" stroke="#111" stroke-width="1.8" />
<polyline points="1010,1712 1016,1700" fill="none" stroke="#666" stroke-width="1.2" />
<polyline points="1014,1710 1020,1698" fill="none" stroke="#666" stroke-width="1.2" />
<polyline points="1018,1708 1024,1696" fill="none" stroke="#666" stroke-width="1.2" />
<polyline points="1022,1706 1028,1694" fill="none" stroke="#666" stroke-width="1.2" />
<polyline points="1026,1704 1032,1692" fill="none" stroke="#666" stroke-width="1.2" />
<polyline points="1030,1702 1036,1690" fill="none" stroke="#666" stroke-width="1.2" />
<polyline points="1034,1700 1040,1688" fill="none" stroke="#666" stroke-width="1.2" />
<polyline points="1038,1698 1044,1686" fill="none" stroke="#666" stroke-width="1.2" />
<polyline points="1042,1696 1048,1684" fill="none" stroke="#666" stroke-width="1.2" />
<polyline points="1046,1694 1052,1682" fill="none" stroke="#666" stroke-width="1.2" />
<polyline points="1335,1549 1341,1537" fill="none" stroke="#666" stroke-width="1.2" />
<polyline points="1339,1547 1345,1535" fill="none" stroke="#666" stroke-width="1.2" />
<polyline points="1343,1545 1349,1533" fill="none" stroke="#666" stroke-width="1.2" />
<polyline points="1347,1543 1353,1531" fill="none" stroke="#666" stroke-width="1.2" />
<polyline points="1351,1541 1357,1529" fill="none" stroke="#666" stroke-width="1.2" />
<polyline points="1355,1539 1361,1527" fill="none" stroke="#666" stroke-width="1.2" />
<polyline points="1359,1537 1365,1525" fill="none" stroke="#666" stroke-width="1.2" />
<polyline points="1363,1535 1369,1523" fill="none" stroke="#666" stroke-width="1.2" />
<polyline points="1367,1533 1373,1521" fill="none" stroke="#666" stroke-width="1.2" />
<polyline points="1371,1531 1377,1519" fill="none" stroke="#666" stroke-width="1.2" />
<path d="M1068,1643 L1068,1659 Q1078,1665 1088,1659 L1088,1643 Z" fill="#30eaf9" stroke="#222" stroke-width="1.5" stroke-linejoin="round" />
<ellipse cx="1078" cy="1643" rx="10" ry="4" fill="#fff" stroke="#222" stroke-width="1.5" />
<path d="M1170,1596 L1170,1612 Q1180,1618 1190,1612 L1190,1596 Z" fill="#30eaf9" stroke="#222" stroke-width="1.5" stroke-linejoin="round" />
<ellipse cx="1180" cy="1596" rx="10" ry="4" fill="#fff" stroke="#222" stroke-width="1.5" />
<path d="M1343,1517 L1343,1533 Q1353,1539 1363,1533 L1363,1517 Z" fill="#30eaf9" stroke="#222" stroke-width="1.5" stroke-linejoin="round" />
<ellipse cx="1353" cy="1517" rx="10" ry="4" fill="#fff" stroke="#222" stroke-width="1.5" />
<path d="M1260,1570 L1260,1586 Q1270,1592 1280,1586 L1280,1570 Z" fill="#30eaf9" stroke="#222" stroke-width="1.5" stroke-linejoin="round" />
<ellipse cx="1270" cy="1570" rx="10" ry="4" fill="#fff" stroke="#222" stroke-width="1.5" />
<path d="M1085,1690 L1085,1706 Q1095,1712 1105,1706 L1105,1690 Z" fill="#30eaf9" stroke="#222" stroke-width="1.5" stroke-linejoin="round" />
<ellipse cx="1095" cy="1690" rx="10" ry="4" fill="#fff" stroke="#222" stroke-width="1.5" />
<path d="M1078,1660 L1150,1625 M1190,1610 L1330,1540" fill="none" stroke="#fff" stroke-width="3" stroke-linejoin="round" />
<path d="M1502,1440 L1540,1440 L1550,1446 L1550,1500 L1502,1515 Z" fill="#30eaf9" stroke="#222" stroke-width="1.5" stroke-linejoin="round" />
<ellipse cx="1527" cy="1442" rx="18" ry="8" fill="#30eaf9" stroke="#222" stroke-width="1.5" />
<path d="M1560,1449 Q1585,1462 1585,1475" fill="none" stroke="#fff" stroke-width="3" stroke-linejoin="round" />
<path d="M1533.04,1548 L1550.96,1548 L1550.96,1585 L1533.04,1585 Z" fill="#30eaf9" stroke="#333" stroke-width="1.6" stroke-linejoin="round" />
<polyline points="1531.92,1551 1552.08,1553" fill="none" stroke="#333" stroke-width="1.3" />
<polyline points="1531.92,1556 1552.08,1558" fill="none" stroke="#333" stroke-width="1.3" />
<polyline points="1531.92,1561 1552.08,1563" fill="none" stroke="#333" stroke-width="1.3" />
<polyline points="1531.92,1566 1552.08,1568" fill="none" stroke="#333" stroke-width="1.3" />
<polyline points="1531.92,1571 1552.08,1573" fill="none" stroke="#333" stroke-width="1.3" />
<polyline points="1531.92,1576 1552.08,1578" fill="none" stroke="#333" stroke-width="1.3" />
<polyline points="1531.92,1581 1552.08,1583" fill="none" stroke="#333" stroke-width="1.3" />
<path d="M1528,1588 L1528,1600 Q1542.0,1606 1556,1600 L1556,1588 Z" fill="#30eaf9" stroke="#333" stroke-width="1.8" stroke-linejoin="round" />
<ellipse cx="1542.0" cy="1588" rx="14.0" ry="4" fill="#30eaf9" stroke="#333" stroke-width="1.8" />
<path d="M1271.4,1735 L1290.6,1735 L1290.6,1768 L1271.4,1768 Z" fill="#30eaf9" stroke="#333" stroke-width="1.6" stroke-linejoin="round" />
<polyline points="1270.2,1738 1291.8,1740" fill="none" stroke="#333" stroke-width="1.3" />
<polyline points="1270.2,1743 1291.8,1745" fill="none" stroke="#333" stroke-width="1.3" />
<polyline points="1270.2,1748 1291.8,1750" fill="none" stroke="#333" stroke-width="1.3" />
<polyline points="1270.2,1753 1291.8,1755" fill="none" stroke="#333" stroke-width="1.3" />
<polyline points="1270.2,1758 1291.8,1760" fill="none" stroke="#333" stroke-width="1.3" />
<polyline points="1270.2,1763 1291.8,1765" fill="none" stroke="#333" stroke-width="1.3" />
<path d="M1266,1771 L1266,1784 Q1281.0,1790 1296,1784 L1296,1771 Z" fill="#30eaf9" stroke="#333" stroke-width="1.8" stroke-linejoin="round" />
<ellipse cx="1281.0" cy="1771" rx="15.0" ry="4" fill="#30eaf9" stroke="#333" stroke-width="1.8" />
<path d="M1288,1683 L1355,1651 L1489,1690 L1522,1700 Q1531,1708 1531,1714 Q1531,1725 1526,1728 Q1512,1738 1498,1740 L1447,1742 L1288,1692 Z" fill="#fff" stroke="#111" stroke-width="2.5" stroke-linejoin="round" />
<path d="M1288,1681 L1355,1651 L1489,1690 L1522,1700 Q1531,1708 1531,1714 Q1529,1726 1498,1735 L1447,1735 L1288,1690 Z" fill="#0cb322" stroke="#111" stroke-width="2.2" stroke-linejoin="round" />
<ellipse cx="1477" cy="1716" rx="26" ry="14" fill="#fff" stroke="#111" stroke-width="2.2" />
<ellipse cx="1477" cy="1722" rx="14" ry="5" fill="none" stroke="#333" stroke-width="1.3" />
<path d="M1447,1742 Q1475,1758 1507,1746" fill="#0cb322" stroke="#111" stroke-width="2" stroke-linejoin="round" />
<ellipse cx="1476" cy="1781" rx="19" ry="9" fill="#0cb322" stroke="#111" stroke-width="2.5" />
<ellipse cx="1476" cy="1781" rx="9" ry="4" fill="#fff" stroke="#111" stroke-width="1.5" />
<path d="M1467,1800 L1491,1800 L1491,1836 L1467,1836 Z" fill="#0cb322" stroke="#111" stroke-width="2" stroke-linejoin="round" />
<ellipse cx="1479" cy="1800" rx="12" ry="5" fill="#fff" stroke="#111" stroke-width="1.8" />
<path d="M1463,1836 L1463,1845 Q1479,1852 1496,1845 L1496,1836 Z" fill="#0cb322" stroke="#111" stroke-width="2" stroke-linejoin="round" />
<ellipse cx="1479" cy="1836" rx="16" ry="6" fill="#0cb322" stroke="#111" stroke-width="2" />
<path d="M358,2122 L367,2099 L393,2082 L420,2068 L418,2046 L427,2035 L563,1961 L741,1881 L919,1823 L945,1812 L959,1810 L1079,1839 L1085,1850 L1083,1859 L1030,1904 L963,1953 L830,2037 L718,2104 L607,2148 L518,2179 L451,2193 L407,2179 L367,2157 L358,2135 Z" fill="#f5dd3a" stroke="#111" stroke-width="3" stroke-linejoin="round" />
<path d="M432,2040 L563,1972 L741,1893 L919,1836 L1035,1843" fill="none" stroke="#111" stroke-width="1.5" stroke-linejoin="round" />
<path d="M420,2059 L487,2082 L607,2117 L735,2057 L1034,1859" fill="none" stroke="#111" stroke-width="8" stroke-linejoin="round" />
<path d="M420,2059 L487,2082 L607,2117 L735,2057 L1034,1859" fill="none" stroke="#fff" stroke-width="5" stroke-linejoin="round" />
<path d="M487,2082 Q500,2110 560,2123 L607,2117" fill="none" stroke="#111" stroke-width="1.5" stroke-linejoin="round" />
<path d="M367,2099 L420,2068 M393,2082 L480,2100" fill="none" stroke="#111" stroke-width="1.5" stroke-linejoin="round" />
<path d="M470,2024 L665,1932 L940,1848" fill="none" stroke="#333" stroke-width="1" stroke-linejoin="round" />
<path d="M500,2050 L700,1950 L960,1870" fill="none" stroke="#555" stroke-width="1" stroke-linejoin="round" />
<path d="M525,2075 L560,2060 L600,2077" fill="none" stroke="#111" stroke-width="1.5" stroke-linejoin="round" />
<ellipse cx="430" cy="2150" rx="22" ry="9" fill="none" stroke="#111" stroke-width="1.5" />
<ellipse cx="430" cy="2148" rx="12" ry="5" fill="#eee" stroke="#111" stroke-width="1.5" />
<ellipse cx="520" cy="2092" rx="12" ry="5" fill="#ddd" stroke="#111" stroke-width="1.5" />
<ellipse cx="616" cy="2068" rx="5" ry="2.5" fill="#fff" stroke="#333" stroke-width="1.2" />
<ellipse cx="695" cy="2033" rx="5" ry="2.5" fill="#fff" stroke="#333" stroke-width="1.2" />
<ellipse cx="757" cy="1998" rx="5" ry="2.5" fill="#fff" stroke="#333" stroke-width="1.2" />
<ellipse cx="918" cy="1918" rx="5" ry="2.5" fill="#fff" stroke="#333" stroke-width="1.2" />
<ellipse cx="988" cy="1874" rx="5" ry="2.5" fill="#fff" stroke="#333" stroke-width="1.2" />
<path d="M842,1938 Q845,1925 862,1923 Q880,1920 892,1930 L900,1938 L898,1950 L870,1963 Q846,1960 842,1950 Z" fill="#f5dd3a" stroke="#111" stroke-width="2" stroke-linejoin="round" />
<ellipse cx="868" cy="1934" rx="15" ry="7" fill="#fff" stroke="#111" stroke-width="1.5" />
<path d="M527,1982 L527,2035 Q535,2042 542,2035 L542,1982 M542,1982 L542,2035 Q552,2042 560,2035 L560,1972" fill="none" stroke="#111" stroke-width="1.8" stroke-linejoin="round" />
<ellipse cx="554" cy="1975" rx="5" ry="3" fill="#fff" stroke="#111" stroke-width="1.3" />
<path d="M920,1840 Q960,1845 990,1870 L1015,1880" fill="none" stroke="#111" stroke-width="1.5" stroke-linejoin="round" />
<path d="M958,1815 L958,1839 Q974,1846 990,1839 L990,1815 Z" fill="#f5dd3a" stroke="#111" stroke-width="2" stroke-linejoin="round" />
<ellipse cx="974" cy="1815" rx="16" ry="7" fill="#fff" stroke="#111" stroke-width="2" />
<ellipse cx="974" cy="1816" rx="9" ry="4" fill="#f5dd3a" stroke="#333" stroke-width="1.2" />
<path d="M998,1803 L998,1827 Q1014,1834 1030,1827 L1030,1803 Z" fill="#f5dd3a" stroke="#111" stroke-width="2" stroke-linejoin="round" />
<ellipse cx="1014" cy="1803" rx="16" ry="7" fill="#fff" stroke="#111" stroke-width="2" />
<ellipse cx="1014" cy="1804" rx="9" ry="4" fill="#f5dd3a" stroke="#333" stroke-width="1.2" />
<path d="M1041,1817 L1041,1841 Q1057,1848 1073,1841 L1073,1817 Z" fill="#f5dd3a" stroke="#111" stroke-width="2" stroke-linejoin="round" />
<ellipse cx="1057" cy="1817" rx="16" ry="7" fill="#fff" stroke="#111" stroke-width="2" />
<ellipse cx="1057" cy="1818" rx="9" ry="4" fill="#f5dd3a" stroke="#333" stroke-width="1.2" />
<path d="M1023,1837 L1023,1861 Q1039,1868 1055,1861 L1055,1837 Z" fill="#f5dd3a" stroke="#111" stroke-width="2" stroke-linejoin="round" />
<ellipse cx="1039" cy="1837" rx="16" ry="7" fill="#fff" stroke="#111" stroke-width="2" />
<ellipse cx="1039" cy="1838" rx="9" ry="4" fill="#f5dd3a" stroke="#333" stroke-width="1.2" />
<polyline points="1040,1783 1040,1800" fill="none" stroke="#222" stroke-width="1.5" />
<polyline points="1060,1783 1060,1810" fill="none" stroke="#222" stroke-width="1.5" />
<polyline points="1040,1870 1040,1940" fill="none" stroke="#222" stroke-width="1.5" stroke-dasharray="25 6" />
<polyline points="1060,1865 1060,1895" fill="none" stroke="#222" stroke-width="1.5" />
<path d="M1052.86,1899 L1070.14,1899 L1070.14,1936 L1052.86,1936 Z" fill="#f5dd3a" stroke="#555" stroke-width="1.6" stroke-linejoin="round" />
<polyline points="1051.78,1902 1071.22,1904" fill="none" stroke="#555" stroke-width="1.3" />
<polyline points="1051.78,1907 1071.22,1909" fill="none" stroke="#555" stroke-width="1.3" />
<polyline points="1051.78,1912 1071.22,1914" fill="none" stroke="#555" stroke-width="1.3" />
<polyline points="1051.78,1917 1071.22,1919" fill="none" stroke="#555" stroke-width="1.3" />
<polyline points="1051.78,1922 1071.22,1924" fill="none" stroke="#555" stroke-width="1.3" />
<polyline points="1051.78,1927 1071.22,1929" fill="none" stroke="#555" stroke-width="1.3" />
<polyline points="1051.78,1932 1071.22,1934" fill="none" stroke="#555" stroke-width="1.3" />
<path d="M1048,1939 L1048,1950 Q1061.5,1956 1075,1950 L1075,1939 Z" fill="#f5dd3a" stroke="#555" stroke-width="1.8" stroke-linejoin="round" />
<ellipse cx="1061.5" cy="1939" rx="13.5" ry="4" fill="#f5dd3a" stroke="#555" stroke-width="1.8" />
<path d="M1033.86,1945 L1051.14,1945 L1051.14,1982 L1033.86,1982 Z" fill="#f5dd3a" stroke="#555" stroke-width="1.6" stroke-linejoin="round" />
<polyline points="1032.78,1948 1052.22,1950" fill="none" stroke="#555" stroke-width="1.3" />
<polyline points="1032.78,1953 1052.22,1955" fill="none" stroke="#555" stroke-width="1.3" />
<polyline points="1032.78,1958 1052.22,1960" fill="none" stroke="#555" stroke-width="1.3" />
<polyline points="1032.78,1963 1052.22,1965" fill="none" stroke="#555" stroke-width="1.3" />
<polyline points="1032.78,1968 1052.22,1970" fill="none" stroke="#555" stroke-width="1.3" />
<polyline points="1032.78,1973 1052.22,1975" fill="none" stroke="#555" stroke-width="1.3" />
<polyline points="1032.78,1978 1052.22,1980" fill="none" stroke="#555" stroke-width="1.3" />
<path d="M1029,1985 L1029,1997 Q1042.5,2003 1056,1997 L1056,1985 Z" fill="#f5dd3a" stroke="#555" stroke-width="1.8" stroke-linejoin="round" />
<ellipse cx="1042.5" cy="1985" rx="13.5" ry="4" fill="#f5dd3a" stroke="#555" stroke-width="1.8" />
<path d="M700.86,2115 L718.14,2115 L718.14,2150 L700.86,2150 Z" fill="#f5dd3a" stroke="#555" stroke-width="1.6" stroke-linejoin="round" />
<polyline points="699.78,2118 719.22,2120" fill="none" stroke="#555" stroke-width="1.3" />
<polyline points="699.78,2123 719.22,2125" fill="none" stroke="#555" stroke-width="1.3" />
<polyline points="699.78,2128 719.22,2130" fill="none" stroke="#555" stroke-width="1.3" />
<polyline points="699.78,2133 719.22,2135" fill="none" stroke="#555" stroke-width="1.3" />
<polyline points="699.78,2138 719.22,2140" fill="none" stroke="#555" stroke-width="1.3" />
<polyline points="699.78,2143 719.22,2145" fill="none" stroke="#555" stroke-width="1.3" />
<polyline points="699.78,2148 719.22,2150" fill="none" stroke="#555" stroke-width="1.3" />
<path d="M696,2153 L696,2163 Q709.5,2169 723,2163 L723,2153 Z" fill="#f5dd3a" stroke="#555" stroke-width="1.8" stroke-linejoin="round" />
<ellipse cx="709.5" cy="2153" rx="13.5" ry="4" fill="#f5dd3a" stroke="#555" stroke-width="1.8" />
<polyline points="710,2095 710,2115" fill="none" stroke="#222" stroke-width="1.5" />
<path d="M704,2103 Q710,2092 716,2103" fill="none" stroke="#111" stroke-width="1.5" stroke-linejoin="round" />
<path d="M398,1850 L518,1888 Q531,1914 509,1945 L491,1944 L389,1904 Q372,1890 376,1870 Q382,1852 398,1850 Z" fill="#fff" stroke="#111" stroke-width="2.2" stroke-linejoin="round" />
<ellipse cx="509" cy="1915" rx="21" ry="31" fill="#fff" stroke="#333" stroke-width="1.5" transform="rotate(-5 509 1915)" />
<ellipse cx="505" cy="1916" rx="16" ry="25" fill="none" stroke="#888" stroke-width="1.2" transform="rotate(-5 505 1916)" />
<path d="M522,1912 Q560,1905 587,1895 M494,1924 Q540,1922 578,1918" fill="none" stroke="#333" stroke-width="1.8" stroke-linejoin="round" />
<path d="M84,2107 L157,2073 L299,2130 Q318,2138 323,2150 Q326,2160 323,2166 L323,2170 Q320,2184 300,2189 L276,2190 L252,2187 L86,2124 Z" fill="#fff" stroke="#111" stroke-width="2.5" stroke-linejoin="round" />
<path d="M84,2107 L157,2073 L299,2130 Q318,2138 323,2150 Q325,2160 318,2166 Q305,2176 276,2176 L260,2174 L87,2112 Z" fill="#0cb322" stroke="#111" stroke-width="2.2" stroke-linejoin="round" />
<ellipse cx="234" cy="2140" rx="6" ry="3.5" fill="#fff" stroke="#222" stroke-width="1.3" />
<ellipse cx="272" cy="2155" rx="6" ry="3.5" fill="#fff" stroke="#222" stroke-width="1.3" />
<text x="0" y="0" transform="matrix(-1.45,0.64,-4.4,-1.6,168,2095)" font-family="Liberation Sans" font-size="20" fill="none" stroke="#111" stroke-width="0.45">nice</text>
<path d="M261,2009 L283,2009 L283,2059 L272,2062 L261,2059 Z" fill="#0cb322" stroke="#111" stroke-width="2" stroke-linejoin="round" />
<path d="M261,2032 L283,2032 L283,2059 L272,2062 L261,2059 Z" fill="#bbb" stroke="#111" stroke-width="1.8" stroke-linejoin="round" />
<polyline points="261,2035 283,2037" fill="none" stroke="#555" stroke-width="1.2" />
<polyline points="261,2040 283,2042" fill="none" stroke="#555" stroke-width="1.2" />
<polyline points="261,2045 283,2047" fill="none" stroke="#555" stroke-width="1.2" />
<polyline points="261,2050 283,2052" fill="none" stroke="#555" stroke-width="1.2" />
<polyline points="261,2055 283,2057" fill="none" stroke="#555" stroke-width="1.2" />
<path d="M254,1993 L260,1987 L284,1987 L290,1993 L290,2004 L284,2010 L260,2010 L254,2004 Z" fill="#0cb322" stroke="#111" stroke-width="2.2" stroke-linejoin="round" />
<ellipse cx="272" cy="1992" rx="15" ry="5" fill="#0cb322" stroke="#333" stroke-width="1.2" />
<ellipse cx="273" cy="2236" rx="19" ry="9.5" fill="#0cb322" stroke="#111" stroke-width="2.5" />
<ellipse cx="273" cy="2236" rx="9" ry="4" fill="#fff" stroke="#111" stroke-width="1.5" />
<path d="M254,2276 L262,2268 L284,2268 L292,2276 L292,2292 L284,2300 L262,2300 L254,2292 Z" fill="#0cb322" stroke="#111" stroke-width="2.2" stroke-linejoin="round" />
<ellipse cx="273" cy="2278" rx="12" ry="6" fill="#333" stroke="#111" stroke-width="1.5" />
<ellipse cx="273" cy="2278" rx="6" ry="3" fill="#0cb322" stroke="#111" stroke-width="1" />
<path d="M489,2268 L498,2256 L508,2258 L516,2250 L532,2250 L540,2258 L552,2256 L557,2270 L552,2280 L540,2286 L524,2291 L506,2288 L494,2282 Z" fill="#f5dd3a" stroke="#111" stroke-width="2.2" stroke-linejoin="round" />
<ellipse cx="524" cy="2263" rx="14" ry="7" fill="#eee" stroke="#111" stroke-width="1.8" />
<path d="M499,2294 L549,2294 L549,2303 L552,2310 L552,2326 Q524,2340 497,2326 L497,2310 L499,2303 Z" fill="#f5dd3a" stroke="#111" stroke-width="2.2" stroke-linejoin="round" />
<path d="M499,2303 Q524,2312 549,2303 M497,2310 Q524,2320 552,2310" fill="none" stroke="#111" stroke-width="1.5" stroke-linejoin="round" />
<path d="M1456,1975 L1456,2010" fill="none" stroke="#222" stroke-width="1.5" stroke-linejoin="round" />
<path d="M1436,1991 L1444,1983 L1468,1983 L1477,1991 L1477,2003 L1468,2011 L1444,2011 L1436,2003 Z" fill="#d40a5c" stroke="#111" stroke-width="2.2" stroke-linejoin="round" />
<ellipse cx="1456" cy="1990" rx="10" ry="5" fill="#ccc" stroke="#111" stroke-width="1.5" />
<path d="M1365,2060 L1370,2046 L1419,2024 L1518,2052 L1539,2062 L1542,2082 L1479,2120 L1457,2117 L1386,2093 L1384,2082 L1365,2082 Z" fill="#d40a5c" stroke="#111" stroke-width="2.8" stroke-linejoin="round" />
<path d="M1365,2068 L1472,2100 L1542,2066" fill="none" stroke="#f4a0c0" stroke-width="1.2" stroke-linejoin="round" />
<path d="M1472,2100 L1479,2120" fill="none" stroke="#111" stroke-width="1.5" stroke-linejoin="round" />
<ellipse cx="1455" cy="2057" rx="21" ry="12" fill="#eee" stroke="#111" stroke-width="2.2" />
<ellipse cx="1455" cy="2060" rx="15" ry="7" fill="none" stroke="#555" stroke-width="1.3" />
<path d="M1365,2166 L1370,2155 L1427,2125 L1539,2163 L1542,2180 L1479,2223 L1365,2188 Z" fill="#d40a5c" stroke="#111" stroke-width="2.8" stroke-linejoin="round" />
<path d="M1370,2160 L1427,2130 L1452,2138 L1396,2168 Z" fill="#c8c8c8" stroke="#333" stroke-width="1.3" stroke-linejoin="round" />
<polyline points="1376.0,2163.0 1383.0,2167.0" fill="none" stroke="#555" stroke-width="1.1" />
<polyline points="1382.5,2159.6 1389.5,2163.6" fill="none" stroke="#555" stroke-width="1.1" />
<polyline points="1389.0,2156.2 1396.0,2160.2" fill="none" stroke="#555" stroke-width="1.1" />
<polyline points="1395.5,2152.8 1402.5,2156.8" fill="none" stroke="#555" stroke-width="1.1" />
<polyline points="1402.0,2149.4 1409.0,2153.4" fill="none" stroke="#555" stroke-width="1.1" />
<polyline points="1408.5,2146.0 1415.5,2150.0" fill="none" stroke="#555" stroke-width="1.1" />
<polyline points="1415.0,2142.6 1422.0,2146.6" fill="none" stroke="#555" stroke-width="1.1" />
<polyline points="1421.5,2139.2 1428.5,2143.2" fill="none" stroke="#555" stroke-width="1.1" />
<polyline points="1428.0,2135.8 1435.0,2139.8" fill="none" stroke="#555" stroke-width="1.1" />
<path d="M1396,2168 L1396,2176 L1452,2146 L1452,2138" fill="none" stroke="#333" stroke-width="1.2" stroke-linejoin="round" />
<path d="M1462,2203 L1528,2160 L1540,2166 L1474,2210 Z" fill="#c8c8c8" stroke="#333" stroke-width="1.3" stroke-linejoin="round" />
<polyline points="1468,2206.0 1476,2209.0" fill="none" stroke="#555" stroke-width="1.1" />
<polyline points="1475,2201.5 1483,2204.5" fill="none" stroke="#555" stroke-width="1.1" />
<polyline points="1482,2197.0 1490,2200.0" fill="none" stroke="#555" stroke-width="1.1" />
<polyline points="1489,2192.5 1497,2195.5" fill="none" stroke="#555" stroke-width="1.1" />
<polyline points="1496,2188.0 1504,2191.0" fill="none" stroke="#555" stroke-width="1.1" />
<polyline points="1503,2183.5 1511,2186.5" fill="none" stroke="#555" stroke-width="1.1" />
<polyline points="1510,2179.0 1518,2182.0" fill="none" stroke="#555" stroke-width="1.1" />
<polyline points="1517,2174.5 1525,2177.5" fill="none" stroke="#555" stroke-width="1.1" />
<polyline points="1524,2170.0 1532,2173.0" fill="none" stroke="#555" stroke-width="1.1" />
<path d="M1365,2170 L1479,2207 L1542,2168" fill="none" stroke="#f4a0c0" stroke-width="1" stroke-linejoin="round" />
<path d="M1479,2207 L1479,2223" fill="none" stroke="#111" stroke-width="1.5" stroke-linejoin="round" />
<ellipse cx="1455" cy="2174" rx="14" ry="8" fill="#eee" stroke="#111" stroke-width="1.8" />
<path d="M1432,2343 L1432,2358 Q1456,2374 1479,2358 L1479,2343 Z" fill="#d40a5c" stroke="#111" stroke-width="2.2" stroke-linejoin="round" />
<ellipse cx="1456" cy="2342" rx="23" ry="8" fill="#d40a5c" stroke="#111" stroke-width="2" />
<path d="M1444,2272 L1468,2272 L1468,2338 L1444,2338 Z" fill="#d40a5c" stroke="#111" stroke-width="2" stroke-linejoin="round" />
<polyline points="1444,2276 1468,2278" fill="none" stroke="#fff" stroke-width="1.2" />
<polyline points="1444,2281 1468,2283" fill="none" stroke="#fff" stroke-width="1.2" />
<polyline points="1444,2286 1468,2288" fill="none" stroke="#fff" stroke-width="1.2" />
<polyline points="1444,2291 1468,2293" fill="none" stroke="#fff" stroke-width="1.2" />
<polyline points="1444,2296 1468,2298" fill="none" stroke="#fff" stroke-width="1.2" />
<polyline points="1444,2301 1468,2303" fill="none" stroke="#fff" stroke-width="1.2" />
<polyline points="1444,2306 1468,2308" fill="none" stroke="#fff" stroke-width="1.2" />
<polyline points="1444,2311 1468,2313" fill="none" stroke="#fff" stroke-width="1.2" />
<polyline points="1444,2316 1468,2318" fill="none" stroke="#fff" stroke-width="1.2" />
<polyline points="1444,2321 1468,2323" fill="none" stroke="#fff" stroke-width="1.2" />
<polyline points="1444,2326 1468,2328" fill="none" stroke="#fff" stroke-width="1.2" />
<polyline points="1444,2331 1468,2333" fill="none" stroke="#fff" stroke-width="1.2" />
<polyline points="1444,2336 1468,2338" fill="none" stroke="#fff" stroke-width="1.2" />
<ellipse cx="1456" cy="2272" rx="12" ry="4" fill="#eee" stroke="#111" stroke-width="1.5" />
<polyline points="1456,2252 1456,2268" fill="none" stroke="#222" stroke-width="1.5" />
<text x="280.5" y="240.5" class="lb">4</text>
<path d="M322.8,211.7 L319.5,211.7 Q317.4,216.7 311.2,218.9 L311.2,222.7 Q316.1,221.3 318.8,218.5 L318.8,240.5 L322.8,240.5 Z" fill="#111"/>
<text x="629.5" y="534.5" class="lb">3</text>
<text x="655.9" y="534.5" class="lb">5</text>
<text x="392.5" y="533.5" class="lb">4</text>
<path d="M434.8,504.7 L431.5,504.7 Q429.4,509.7 423.2,511.9 L423.2,515.7 Q428.1,514.3 430.8,511.5 L430.8,533.5 L434.8,533.5 Z" fill="#111"/>
<text x="1177.5" y="145.5" class="lb">8</text>
<text x="1169.5" y="280.5" class="lb">3</text>
<text x="1195.8" y="280.5" class="lb">8</text>
<text x="1163.5" y="436.5" class="lb">4</text>
<path d="M1205.8,407.7 L1202.4,407.7 Q1200.3,412.7 1194.2,414.9 L1194.2,418.7 Q1199.0,417.3 1201.8,414.5 L1201.8,436.5 L1205.8,436.5 Z" fill="#111"/>
<text x="161.5" y="619.5" class="lb">4</text>
<text x="187.8" y="619.5" class="lb">2</text>
<text x="162.5" y="681.5" class="lb">5</text>
<text x="188.8" y="681.5" class="lb">2</text>
<text x="158.5" y="730.5" class="lb">3</text>
<text x="184.8" y="730.5" class="lb">6</text>
<path d="M1338.4,591.7 L1335.1,591.7 Q1333.0,596.7 1326.9,598.9 L1326.9,602.7 Q1331.7,601.3 1334.4,598.5 L1334.4,620.5 L1338.4,620.5 Z" fill="#111"/>
<text x="755.5" y="908.5" class="lb">2</text>
<text x="781.9" y="908.5" class="lb">5</text>
<text x="755.5" y="964.5" class="lb">5</text>
<text x="781.9" y="964.5" class="lb">3</text>
<text x="754.5" y="1019.5" class="lb">5</text>
<text x="780.9" y="1019.5" class="lb">6</text>
<path d="M1190.4,890.7 L1187.1,890.7 Q1185.0,895.7 1178.9,897.9 L1178.9,901.7 Q1183.7,900.3 1186.4,897.5 L1186.4,919.5 L1190.4,919.5 Z" fill="#111"/>
<text x="1200.8" y="919.5" class="lb">0</text>
<text x="1813.5" y="901.5" class="lb">2</text>
<text x="1839.8" y="901.5" class="lb">6</text>
<path d="M768.4,1080.7 L765.1,1080.7 Q763.0,1085.7 756.9,1087.9 L756.9,1091.7 Q761.7,1090.3 764.4,1087.5 L764.4,1109.5 L768.4,1109.5 Z" fill="#111"/>
<text x="778.9" y="1109.5" class="lb">5</text>
<text x="703.5" y="1133.5" class="lb">5</text>
<text x="483.5" y="1201.5" class="lb">2</text>
<text x="509.9" y="1201.5" class="lb">8</text>
<text x="758.5" y="1185.5" class="lb">2</text>
<text x="784.9" y="1185.5" class="lb">7</text>
<text x="1065.5" y="1166.5" class="lb">3</text>
<text x="1091.8" y="1166.5" class="lb">0</text>
<text x="523.5" y="1360.5" class="lb">2</text>
<text x="549.9" y="1360.5" class="lb">9</text>
<text x="771.5" y="1338.5" class="lb">3</text>
<path d="M813.8,1309.7 L810.5,1309.7 Q808.4,1314.7 802.2,1316.9 L802.2,1320.7 Q807.1,1319.3 809.8,1316.5 L809.8,1338.5 L813.8,1338.5 Z" fill="#111"/>
<text x="1109.5" y="1384.5" class="lb">3</text>
<text x="1135.8" y="1384.5" class="lb">2</text>
<path d="M955.4,1366.7 L952.1,1366.7 Q950.0,1371.7 943.9,1373.9 L943.9,1377.7 Q948.7,1376.3 951.4,1373.5 L951.4,1395.5 L955.4,1395.5 Z" fill="#111"/>
<text x="965.9" y="1395.5" class="lb">3</text>
<text x="744.5" y="1453.5" class="lb">3</text>
<text x="770.9" y="1453.5" class="lb">3</text>
<path d="M935.4,1473.7 L932.1,1473.7 Q930.0,1478.7 923.9,1480.9 L923.9,1484.7 Q928.7,1483.3 931.4,1480.5 L931.4,1502.5 L935.4,1502.5 Z" fill="#111"/>
<text x="945.9" y="1502.5" class="lb">9</text>
<text x="260.5" y="1576.5" class="lb">2</text>
<text x="286.9" y="1576.5" class="lb">9</text>
<text x="1590.5" y="1611.5" class="lb">4</text>
<text x="1616.8" y="1611.5" class="lb">6</text>
<text x="752.5" y="1717.5" class="lb">2</text>
<text x="778.9" y="1717.5" class="lb">6</text>
<text x="1570.5" y="1732.5" class="lb">2</text>
<path d="M1612.8,1703.7 L1609.4,1703.7 Q1607.3,1708.7 1601.2,1710.9 L1601.2,1714.7 Q1606.0,1713.3 1608.8,1710.5 L1608.8,1732.5 L1612.8,1732.5 Z" fill="#111"/>
<text x="1325.5" y="1795.5" class="lb">4</text>
<text x="1351.8" y="1795.5" class="lb">6</text>
<text x="1551.5" y="1793.5" class="lb">5</text>
<text x="1577.8" y="1793.5" class="lb">4</text>
<text x="1382.5" y="1834.5" class="lb">4</text>
<text x="1408.8" y="1834.5" class="lb">7</text>
<text x="108.5" y="1842.5" class="lb">4</text>
<text x="134.8" y="1842.5" class="lb">5</text>
<text x="460.5" y="1836.5" class="lb">3</text>
<text x="486.9" y="1836.5" class="lb">7</text>
<text x="176.5" y="2007.5" class="lb">4</text>
<text x="202.8" y="2007.5" class="lb">8</text>
<text x="1527.5" y="2009.5" class="lb">6</text>
<text x="1553.8" y="2009.5" class="lb">0</text>
<text x="1090.5" y="2001.5" class="lb">4</text>
<text x="1116.8" y="2001.5" class="lb">6</text>
<text x="97.5" y="2056.5" class="lb">2</text>
<text x="123.8" y="2056.5" class="lb">2</text>
<text x="908.5" y="2065.5" class="lb">4</text>
<text x="1595.5" y="2186.5" class="lb">5</text>
<text x="1621.8" y="2186.5" class="lb">9</text>
<text x="747.5" y="2188.5" class="lb">4</text>
<text x="773.9" y="2188.5" class="lb">6</text>
<text x="602.5" y="2248.5" class="lb">3</text>
<text x="628.9" y="2248.5" class="lb">9</text>
<text x="173.5" y="2249.5" class="lb">5</text>
<text x="199.8" y="2249.5" class="lb">5</text>
<text x="184.5" y="2297.5" class="lb">5</text>
<path d="M226.8,2268.7 L223.4,2268.7 Q221.3,2273.7 215.2,2275.9 L215.2,2279.7 Q220.0,2278.3 222.8,2275.5 L222.8,2297.5 L226.8,2297.5 Z" fill="#111"/>
<text x="586.5" y="2333.5" class="lb">4</text>
<text x="612.9" y="2333.5" class="lb">0</text>
<text x="1540.5" y="2322.5" class="lb">5</text>
<text x="1566.8" y="2322.5" class="lb">7</text>
</svg></body></html>
